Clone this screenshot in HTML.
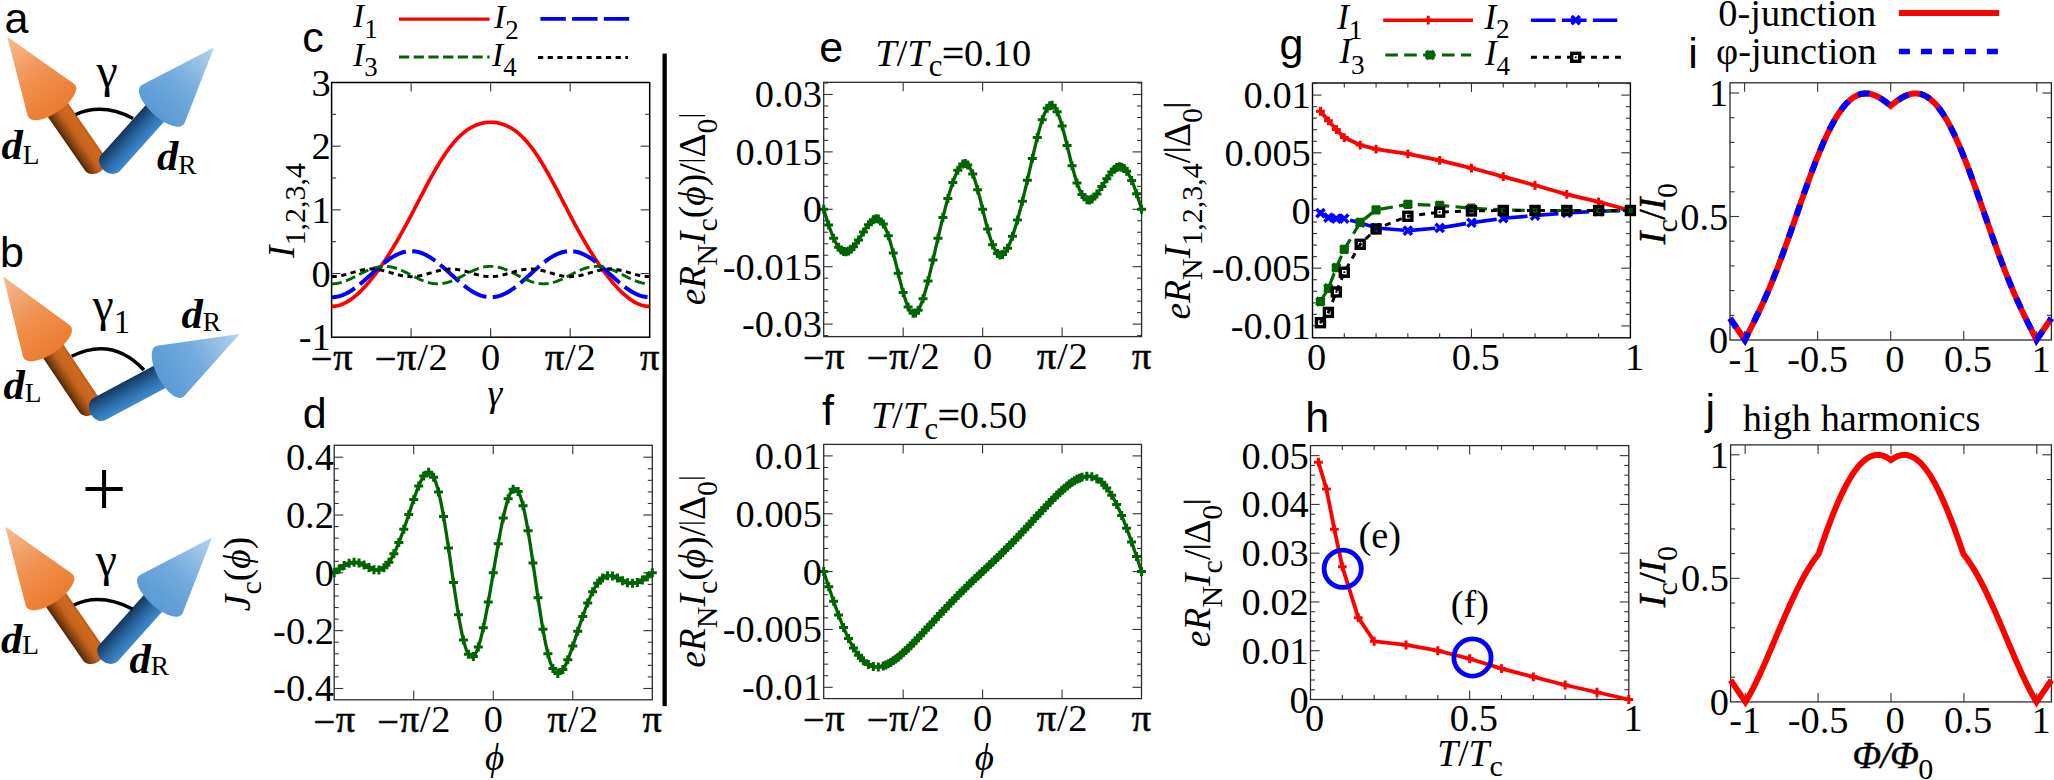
<!DOCTYPE html><html><head><meta charset="utf-8"><title>figure</title><style>html,body{margin:0;padding:0;background:#fff}svg{display:block}</style></head><body>
<svg width="2054" height="780" viewBox="0 0 2054 780">
<rect width="2054" height="780" fill="#fff"/>
<defs>
<linearGradient id="oc" x1="0" y1="0" x2="1" y2="0"><stop offset="0" stop-color="#ec7b2f"/><stop offset="0.45" stop-color="#f0904f"/><stop offset="1" stop-color="#f7bb93"/></linearGradient>
<linearGradient id="bc" x1="0" y1="0" x2="1" y2="0"><stop offset="0" stop-color="#5a9ad4"/><stop offset="0.45" stop-color="#72aadc"/><stop offset="1" stop-color="#b5d3ee"/></linearGradient>
<linearGradient id="os" x1="0" y1="1" x2="0" y2="0"><stop offset="0" stop-color="#b95c1a"/><stop offset="0.15" stop-color="#d06a1f"/><stop offset="0.5" stop-color="#c5621c"/><stop offset="0.8" stop-color="#85420f"/><stop offset="1" stop-color="#4f2608"/></linearGradient>
<linearGradient id="bs" x1="0" y1="0" x2="0" y2="1"><stop offset="0" stop-color="#14365a"/><stop offset="0.25" stop-color="#1f4f80"/><stop offset="0.6" stop-color="#2f6fae"/><stop offset="1" stop-color="#4189cb"/></linearGradient>
</defs>
<g transform="translate(95 163.5) rotate(-124.7)"><path d="M75.73 -12.2H0A9.76 12.2 0 0 0 0 12.2H75.73Z" fill="url(#os)"/><path d="M154.23 0 L77.56 -28.17 A12 28.5 0 1 0 77.56 28.17Z" fill="url(#oc)"/></g>
<g transform="translate(110.5 163) rotate(-48.16)"><path d="M77.12 -12.4H0A9.92 12.4 0 0 0 0 12.4H77.12Z" fill="url(#bs)"/><path d="M155.16 0 L78.96 -28.66 A12 29 0 1 0 78.96 28.66Z" fill="url(#bc)"/></g>
<path d="M75.6 114.5 Q103 102.5 133 118.5" fill="none" stroke="#000" stroke-width="3.5"/>
<g transform="translate(93.1 653.5) rotate(-124.7)"><path d="M75.73 -12.2H0A9.76 12.2 0 0 0 0 12.2H75.73Z" fill="url(#os)"/><path d="M154.23 0 L77.56 -28.17 A12 28.5 0 1 0 77.56 28.17Z" fill="url(#oc)"/></g>
<g transform="translate(108.6 653) rotate(-48.16)"><path d="M77.12 -12.4H0A9.92 12.4 0 0 0 0 12.4H77.12Z" fill="url(#bs)"/><path d="M155.16 0 L78.96 -28.66 A12 29 0 1 0 78.96 28.66Z" fill="url(#bc)"/></g>
<path d="M74 605 Q100 592.5 132.5 609" fill="none" stroke="#000" stroke-width="3.5"/>
<g transform="translate(89.5 405.5) rotate(-123.75)"><path d="M75.74 -12.2H0A9.76 12.2 0 0 0 0 12.2H75.74Z" fill="url(#os)"/><path d="M155.15 0 L77.55 -28.17 A12 28.5 0 1 0 77.55 28.17Z" fill="url(#oc)"/></g>
<g transform="translate(99.5 409) rotate(-28.14)"><path d="M78.8 -12.6H0A10.08 12.6 0 0 0 0 12.6H78.8Z" fill="url(#bs)"/><path d="M159 0 L80.6 -28.67 A12 29 0 1 0 80.6 28.67Z" fill="url(#bc)"/></g>
<path d="M71.7 356.3 Q112 336 144 370" fill="none" stroke="#000" stroke-width="3.5"/>
<text x="4.5" y="32.8" font-family="Liberation Sans, sans-serif" font-size="43" text-anchor="start" >a</text>
<text x="0" y="266.7" font-family="Liberation Sans, sans-serif" font-size="43" text-anchor="start" >b</text>
<text x="96.5" y="87" font-family="Liberation Serif, serif" font-size="48" text-anchor="start" >γ</text>
<text x="95.7" y="575.5" font-family="Liberation Serif, serif" font-size="48" text-anchor="start" >γ</text>
<text x="92.5" y="321.3" font-family="Liberation Serif, serif" font-size="48" text-anchor="start" >γ<tspan font-size="32.64" dy="12">1</tspan></text>
<text x="1.5" y="159" font-family="Liberation Serif, serif" font-size="42.7" text-anchor="start" ><tspan font-style="italic" font-weight="bold">d</tspan><tspan font-size="27.33" dy="5">L</tspan></text>
<text x="157" y="169.5" font-family="Liberation Serif, serif" font-size="42.7" text-anchor="start" ><tspan font-style="italic" font-weight="bold">d</tspan><tspan font-size="27.33" dy="4.3">R</tspan></text>
<text x="3.5" y="399.3" font-family="Liberation Serif, serif" font-size="42.7" text-anchor="start" ><tspan font-style="italic" font-weight="bold">d</tspan><tspan font-size="27.33" dy="3">L</tspan></text>
<text x="181.5" y="327.8" font-family="Liberation Serif, serif" font-size="42.7" text-anchor="start" ><tspan font-style="italic" font-weight="bold">d</tspan><tspan font-size="27.33" dy="3">R</tspan></text>
<text x="1" y="652.5" font-family="Liberation Serif, serif" font-size="42.7" text-anchor="start" ><tspan font-style="italic" font-weight="bold">d</tspan><tspan font-size="27.33" dy="1">L</tspan></text>
<text x="129.5" y="673.2" font-family="Liberation Serif, serif" font-size="42.7" text-anchor="start" ><tspan font-style="italic" font-weight="bold">d</tspan><tspan font-size="27.33" dy="2">R</tspan></text>
<text x="104" y="515.5" font-family="Liberation Serif, serif" font-size="80" text-anchor="middle" >+</text>
<rect x="662.5" y="53.6" width="4.3" height="652.5" fill="#000"/>
<clipPath id="cc"><rect x="331.6" y="82.5" width="318.1" height="254.7"/></clipPath>
<rect x="331.6" y="82.5" width="318.1" height="254.7" fill="none" stroke="#000" stroke-width="1.5"/>
<line x1="411.12" y1="337.2" x2="411.12" y2="328.2" stroke="#333" stroke-width="1.1" />
<line x1="411.12" y1="82.5" x2="411.12" y2="91.5" stroke="#333" stroke-width="1.1" />
<line x1="490.65" y1="337.2" x2="490.65" y2="328.2" stroke="#333" stroke-width="1.1" />
<line x1="490.65" y1="82.5" x2="490.65" y2="91.5" stroke="#333" stroke-width="1.1" />
<line x1="570.18" y1="337.2" x2="570.18" y2="328.2" stroke="#333" stroke-width="1.1" />
<line x1="570.18" y1="82.5" x2="570.18" y2="91.5" stroke="#333" stroke-width="1.1" />
<line x1="331.6" y1="273.52" x2="340.6" y2="273.52" stroke="#333" stroke-width="1.1" />
<line x1="649.7" y1="273.52" x2="640.7" y2="273.52" stroke="#333" stroke-width="1.1" />
<line x1="331.6" y1="209.85" x2="340.6" y2="209.85" stroke="#333" stroke-width="1.1" />
<line x1="649.7" y1="209.85" x2="640.7" y2="209.85" stroke="#333" stroke-width="1.1" />
<line x1="331.6" y1="146.18" x2="340.6" y2="146.18" stroke="#333" stroke-width="1.1" />
<line x1="649.7" y1="146.18" x2="640.7" y2="146.18" stroke="#333" stroke-width="1.1" />
<line x1="331.6" y1="305.36" x2="336.1" y2="305.36" stroke="#333" stroke-width="1.1" />
<line x1="649.7" y1="305.36" x2="645.2" y2="305.36" stroke="#333" stroke-width="1.1" />
<line x1="331.6" y1="241.69" x2="336.1" y2="241.69" stroke="#333" stroke-width="1.1" />
<line x1="649.7" y1="241.69" x2="645.2" y2="241.69" stroke="#333" stroke-width="1.1" />
<line x1="331.6" y1="178.01" x2="336.1" y2="178.01" stroke="#333" stroke-width="1.1" />
<line x1="649.7" y1="178.01" x2="645.2" y2="178.01" stroke="#333" stroke-width="1.1" />
<line x1="331.6" y1="114.34" x2="336.1" y2="114.34" stroke="#333" stroke-width="1.1" />
<line x1="649.7" y1="114.34" x2="645.2" y2="114.34" stroke="#333" stroke-width="1.1" />
<g clip-path="url(#cc)">
<path d="M331.6 306.39 L332.4 306.38 L333.19 306.35 L333.99 306.28 L334.78 306.2 L335.58 306.09 L336.37 305.95 L337.17 305.8 L337.96 305.61 L338.76 305.41 L339.55 305.18 L340.35 304.92 L341.14 304.64 L341.94 304.34 L342.73 304.02 L343.53 303.67 L344.32 303.3 L345.12 302.91 L345.91 302.5 L346.71 302.06 L347.5 301.6 L348.3 301.12 L349.1 300.62 L349.89 300.1 L350.69 299.56 L351.48 299 L352.28 298.41 L353.07 297.81 L353.87 297.19 L354.66 296.55 L355.46 295.89 L356.25 295.21 L357.05 294.52 L357.84 293.8 L358.64 293.07 L359.43 292.32 L360.23 291.56 L361.02 290.77 L361.82 289.97 L362.61 289.16 L363.41 288.33 L364.21 287.48 L365 286.62 L365.8 285.74 L366.59 284.85 L367.39 283.94 L368.18 283.02 L368.98 282.09 L369.77 281.14 L370.57 280.17 L371.36 279.2 L372.16 278.2 L372.95 277.2 L373.75 276.18 L374.54 275.15 L375.34 274.11 L376.13 273.05 L376.93 271.98 L377.72 270.9 L378.52 269.81 L379.32 268.7 L380.11 267.58 L380.91 266.45 L381.7 265.31 L382.5 264.15 L383.29 262.99 L384.09 261.81 L384.88 260.61 L385.68 259.41 L386.47 258.2 L387.27 256.97 L388.06 255.73 L388.86 254.48 L389.65 253.22 L390.45 251.95 L391.24 250.66 L392.04 249.37 L392.83 248.06 L393.63 246.74 L394.42 245.41 L395.22 244.07 L396.02 242.72 L396.81 241.36 L397.61 239.99 L398.4 238.61 L399.2 237.22 L399.99 235.82 L400.79 234.41 L401.58 232.99 L402.38 231.56 L403.17 230.12 L403.97 228.67 L404.76 227.22 L405.56 225.76 L406.35 224.28 L407.15 222.81 L407.94 221.32 L408.74 219.83 L409.53 218.33 L410.33 216.83 L411.13 215.32 L411.92 213.81 L412.72 212.29 L413.51 210.77 L414.31 209.24 L415.1 207.71 L415.9 206.18 L416.69 204.65 L417.49 203.12 L418.28 201.59 L419.08 200.05 L419.87 198.52 L420.67 196.99 L421.46 195.46 L422.26 193.93 L423.05 192.41 L423.85 190.89 L424.64 189.37 L425.44 187.86 L426.23 186.36 L427.03 184.86 L427.83 183.37 L428.62 181.89 L429.42 180.41 L430.21 178.95 L431.01 177.49 L431.8 176.05 L432.6 174.61 L433.39 173.19 L434.19 171.78 L434.98 170.39 L435.78 169.01 L436.57 167.64 L437.37 166.29 L438.16 164.95 L438.96 163.63 L439.75 162.32 L440.55 161.03 L441.34 159.76 L442.14 158.51 L442.94 157.28 L443.73 156.07 L444.53 154.87 L445.32 153.7 L446.12 152.54 L446.91 151.41 L447.71 150.29 L448.5 149.2 L449.3 148.13 L450.09 147.08 L450.89 146.06 L451.68 145.05 L452.48 144.07 L453.27 143.11 L454.07 142.17 L454.86 141.26 L455.66 140.37 L456.45 139.5 L457.25 138.65 L458.04 137.83 L458.84 137.03 L459.64 136.26 L460.43 135.5 L461.23 134.77 L462.02 134.06 L462.82 133.38 L463.61 132.71 L464.41 132.07 L465.2 131.46 L466 130.86 L466.79 130.29 L467.59 129.73 L468.38 129.2 L469.18 128.69 L469.97 128.2 L470.77 127.74 L471.56 127.29 L472.36 126.86 L473.15 126.46 L473.95 126.07 L474.75 125.7 L475.54 125.36 L476.34 125.03 L477.13 124.72 L477.93 124.43 L478.72 124.16 L479.52 123.91 L480.31 123.68 L481.11 123.46 L481.9 123.26 L482.7 123.08 L483.49 122.92 L484.29 122.78 L485.08 122.65 L485.88 122.54 L486.67 122.44 L487.47 122.37 L488.26 122.31 L489.06 122.27 L489.85 122.24 L490.65 122.23 L491.45 122.24 L492.24 122.27 L493.04 122.31 L493.83 122.37 L494.63 122.44 L495.42 122.54 L496.22 122.65 L497.01 122.78 L497.81 122.92 L498.6 123.08 L499.4 123.26 L500.19 123.46 L500.99 123.68 L501.78 123.91 L502.58 124.16 L503.37 124.43 L504.17 124.72 L504.96 125.03 L505.76 125.36 L506.56 125.7 L507.35 126.07 L508.15 126.46 L508.94 126.86 L509.74 127.29 L510.53 127.74 L511.33 128.2 L512.12 128.69 L512.92 129.2 L513.71 129.73 L514.51 130.29 L515.3 130.86 L516.1 131.46 L516.89 132.07 L517.69 132.71 L518.48 133.38 L519.28 134.06 L520.07 134.77 L520.87 135.5 L521.66 136.26 L522.46 137.03 L523.26 137.83 L524.05 138.65 L524.85 139.5 L525.64 140.37 L526.44 141.26 L527.23 142.17 L528.03 143.11 L528.82 144.07 L529.62 145.05 L530.41 146.06 L531.21 147.08 L532 148.13 L532.8 149.2 L533.59 150.29 L534.39 151.41 L535.18 152.54 L535.98 153.7 L536.77 154.87 L537.57 156.07 L538.37 157.28 L539.16 158.51 L539.96 159.76 L540.75 161.03 L541.55 162.32 L542.34 163.63 L543.14 164.95 L543.93 166.29 L544.73 167.64 L545.52 169.01 L546.32 170.39 L547.11 171.78 L547.91 173.19 L548.7 174.61 L549.5 176.05 L550.29 177.49 L551.09 178.95 L551.88 180.41 L552.68 181.89 L553.47 183.37 L554.27 184.86 L555.07 186.36 L555.86 187.86 L556.66 189.37 L557.45 190.89 L558.25 192.41 L559.04 193.93 L559.84 195.46 L560.63 196.99 L561.43 198.52 L562.22 200.05 L563.02 201.59 L563.81 203.12 L564.61 204.65 L565.4 206.18 L566.2 207.71 L566.99 209.24 L567.79 210.77 L568.58 212.29 L569.38 213.81 L570.18 215.32 L570.97 216.83 L571.77 218.33 L572.56 219.83 L573.36 221.32 L574.15 222.81 L574.95 224.28 L575.74 225.76 L576.54 227.22 L577.33 228.67 L578.13 230.12 L578.92 231.56 L579.72 232.99 L580.51 234.41 L581.31 235.82 L582.1 237.22 L582.9 238.61 L583.69 239.99 L584.49 241.36 L585.28 242.72 L586.08 244.07 L586.88 245.41 L587.67 246.74 L588.47 248.06 L589.26 249.37 L590.06 250.66 L590.85 251.95 L591.65 253.22 L592.44 254.48 L593.24 255.73 L594.03 256.97 L594.83 258.2 L595.62 259.41 L596.42 260.61 L597.21 261.81 L598.01 262.99 L598.8 264.15 L599.6 265.31 L600.39 266.45 L601.19 267.58 L601.99 268.7 L602.78 269.81 L603.58 270.9 L604.37 271.98 L605.17 273.05 L605.96 274.11 L606.76 275.15 L607.55 276.18 L608.35 277.2 L609.14 278.2 L609.94 279.2 L610.73 280.17 L611.53 281.14 L612.32 282.09 L613.12 283.02 L613.91 283.94 L614.71 284.85 L615.5 285.74 L616.3 286.62 L617.09 287.48 L617.89 288.33 L618.69 289.16 L619.48 289.97 L620.28 290.77 L621.07 291.56 L621.87 292.32 L622.66 293.07 L623.46 293.8 L624.25 294.52 L625.05 295.21 L625.84 295.89 L626.64 296.55 L627.43 297.19 L628.23 297.81 L629.02 298.41 L629.82 299 L630.61 299.56 L631.41 300.1 L632.2 300.62 L633 301.12 L633.8 301.6 L634.59 302.06 L635.39 302.5 L636.18 302.91 L636.98 303.3 L637.77 303.67 L638.57 304.02 L639.36 304.34 L640.16 304.64 L640.95 304.92 L641.75 305.18 L642.54 305.41 L643.34 305.61 L644.13 305.8 L644.93 305.95 L645.72 306.09 L646.52 306.2 L647.31 306.28 L648.11 306.35 L648.9 306.38 L649.7 306.39" fill="none" stroke="#ff0000" stroke-width="3.7" />
<path d="M331.6 297.21 L332.4 297.2 L333.19 297.17 L333.99 297.11 L334.78 297.03 L335.58 296.93 L336.37 296.8 L337.17 296.66 L337.96 296.49 L338.76 296.3 L339.55 296.08 L340.35 295.85 L341.14 295.59 L341.94 295.32 L342.73 295.02 L343.53 294.7 L344.32 294.36 L345.12 294 L345.91 293.62 L346.71 293.23 L347.5 292.81 L348.3 292.38 L349.1 291.92 L349.89 291.45 L350.69 290.96 L351.48 290.46 L352.28 289.94 L353.07 289.41 L353.87 288.85 L354.66 288.29 L355.46 287.71 L356.25 287.12 L357.05 286.51 L357.84 285.9 L358.64 285.27 L359.43 284.63 L360.23 283.98 L361.02 283.32 L361.82 282.65 L362.61 281.97 L363.41 281.28 L364.21 280.59 L365 279.89 L365.8 279.19 L366.59 278.48 L367.39 277.77 L368.18 277.05 L368.98 276.33 L369.77 275.61 L370.57 274.89 L371.36 274.16 L372.16 273.44 L372.95 272.71 L373.75 271.99 L374.54 271.27 L375.34 270.56 L376.13 269.84 L376.93 269.13 L377.72 268.43 L378.52 267.73 L379.32 267.04 L380.11 266.35 L380.91 265.68 L381.7 265.01 L382.5 264.35 L383.29 263.7 L384.09 263.06 L384.88 262.43 L385.68 261.81 L386.47 261.21 L387.27 260.61 L388.06 260.03 L388.86 259.47 L389.65 258.92 L390.45 258.38 L391.24 257.86 L392.04 257.36 L392.83 256.87 L393.63 256.4 L394.42 255.95 L395.22 255.51 L396.02 255.1 L396.81 254.7 L397.61 254.32 L398.4 253.96 L399.2 253.62 L399.99 253.31 L400.79 253.01 L401.58 252.73 L402.38 252.47 L403.17 252.24 L403.97 252.03 L404.76 251.84 L405.56 251.67 L406.35 251.52 L407.15 251.4 L407.94 251.29 L408.74 251.21 L409.53 251.16 L410.33 251.12 L411.13 251.11 L411.92 251.12 L412.72 251.16 L413.51 251.21 L414.31 251.29 L415.1 251.4 L415.9 251.52 L416.69 251.67 L417.49 251.84 L418.28 252.03 L419.08 252.24 L419.87 252.47 L420.67 252.73 L421.46 253.01 L422.26 253.31 L423.05 253.62 L423.85 253.96 L424.64 254.32 L425.44 254.7 L426.23 255.1 L427.03 255.51 L427.83 255.95 L428.62 256.4 L429.42 256.87 L430.21 257.36 L431.01 257.86 L431.8 258.38 L432.6 258.92 L433.39 259.47 L434.19 260.03 L434.98 260.61 L435.78 261.21 L436.57 261.81 L437.37 262.43 L438.16 263.06 L438.96 263.7 L439.75 264.35 L440.55 265.01 L441.34 265.68 L442.14 266.35 L442.94 267.04 L443.73 267.73 L444.53 268.43 L445.32 269.13 L446.12 269.84 L446.91 270.56 L447.71 271.27 L448.5 271.99 L449.3 272.71 L450.09 273.44 L450.89 274.16 L451.68 274.89 L452.48 275.61 L453.27 276.33 L454.07 277.05 L454.86 277.77 L455.66 278.48 L456.45 279.19 L457.25 279.89 L458.04 280.59 L458.84 281.28 L459.64 281.97 L460.43 282.65 L461.23 283.32 L462.02 283.98 L462.82 284.63 L463.61 285.27 L464.41 285.9 L465.2 286.51 L466 287.12 L466.79 287.71 L467.59 288.29 L468.38 288.85 L469.18 289.41 L469.97 289.94 L470.77 290.46 L471.56 290.96 L472.36 291.45 L473.15 291.92 L473.95 292.38 L474.75 292.81 L475.54 293.23 L476.34 293.62 L477.13 294 L477.93 294.36 L478.72 294.7 L479.52 295.02 L480.31 295.32 L481.11 295.59 L481.9 295.85 L482.7 296.08 L483.49 296.3 L484.29 296.49 L485.08 296.66 L485.88 296.8 L486.67 296.93 L487.47 297.03 L488.26 297.11 L489.06 297.17 L489.85 297.2 L490.65 297.21 L491.45 297.2 L492.24 297.17 L493.04 297.11 L493.83 297.03 L494.63 296.93 L495.42 296.8 L496.22 296.66 L497.01 296.49 L497.81 296.3 L498.6 296.08 L499.4 295.85 L500.19 295.59 L500.99 295.32 L501.78 295.02 L502.58 294.7 L503.37 294.36 L504.17 294 L504.96 293.62 L505.76 293.23 L506.56 292.81 L507.35 292.38 L508.15 291.92 L508.94 291.45 L509.74 290.96 L510.53 290.46 L511.33 289.94 L512.12 289.41 L512.92 288.85 L513.71 288.29 L514.51 287.71 L515.3 287.12 L516.1 286.51 L516.89 285.9 L517.69 285.27 L518.48 284.63 L519.28 283.98 L520.07 283.32 L520.87 282.65 L521.66 281.97 L522.46 281.28 L523.26 280.59 L524.05 279.89 L524.85 279.19 L525.64 278.48 L526.44 277.77 L527.23 277.05 L528.03 276.33 L528.82 275.61 L529.62 274.89 L530.41 274.16 L531.21 273.44 L532 272.71 L532.8 271.99 L533.59 271.27 L534.39 270.56 L535.18 269.84 L535.98 269.13 L536.77 268.43 L537.57 267.73 L538.37 267.04 L539.16 266.35 L539.96 265.68 L540.75 265.01 L541.55 264.35 L542.34 263.7 L543.14 263.06 L543.93 262.43 L544.73 261.81 L545.52 261.21 L546.32 260.61 L547.11 260.03 L547.91 259.47 L548.7 258.92 L549.5 258.38 L550.29 257.86 L551.09 257.36 L551.88 256.87 L552.68 256.4 L553.47 255.95 L554.27 255.51 L555.07 255.1 L555.86 254.7 L556.66 254.32 L557.45 253.96 L558.25 253.62 L559.04 253.31 L559.84 253.01 L560.63 252.73 L561.43 252.47 L562.22 252.24 L563.02 252.03 L563.81 251.84 L564.61 251.67 L565.4 251.52 L566.2 251.4 L566.99 251.29 L567.79 251.21 L568.58 251.16 L569.38 251.12 L570.18 251.11 L570.97 251.12 L571.77 251.16 L572.56 251.21 L573.36 251.29 L574.15 251.4 L574.95 251.52 L575.74 251.67 L576.54 251.84 L577.33 252.03 L578.13 252.24 L578.92 252.47 L579.72 252.73 L580.51 253.01 L581.31 253.31 L582.1 253.62 L582.9 253.96 L583.69 254.32 L584.49 254.7 L585.28 255.1 L586.08 255.51 L586.88 255.95 L587.67 256.4 L588.47 256.87 L589.26 257.36 L590.06 257.86 L590.85 258.38 L591.65 258.92 L592.44 259.47 L593.24 260.03 L594.03 260.61 L594.83 261.21 L595.62 261.81 L596.42 262.43 L597.21 263.06 L598.01 263.7 L598.8 264.35 L599.6 265.01 L600.39 265.68 L601.19 266.35 L601.99 267.04 L602.78 267.73 L603.58 268.43 L604.37 269.13 L605.17 269.84 L605.96 270.56 L606.76 271.27 L607.55 271.99 L608.35 272.71 L609.14 273.44 L609.94 274.16 L610.73 274.89 L611.53 275.61 L612.32 276.33 L613.12 277.05 L613.91 277.77 L614.71 278.48 L615.5 279.19 L616.3 279.89 L617.09 280.59 L617.89 281.28 L618.69 281.97 L619.48 282.65 L620.28 283.32 L621.07 283.98 L621.87 284.63 L622.66 285.27 L623.46 285.9 L624.25 286.51 L625.05 287.12 L625.84 287.71 L626.64 288.29 L627.43 288.85 L628.23 289.41 L629.02 289.94 L629.82 290.46 L630.61 290.96 L631.41 291.45 L632.2 291.92 L633 292.38 L633.8 292.81 L634.59 293.23 L635.39 293.62 L636.18 294 L636.98 294.36 L637.77 294.7 L638.57 295.02 L639.36 295.32 L640.16 295.59 L640.95 295.85 L641.75 296.08 L642.54 296.3 L643.34 296.49 L644.13 296.66 L644.93 296.8 L645.72 296.93 L646.52 297.03 L647.31 297.11 L648.11 297.17 L648.9 297.2 L649.7 297.21" fill="none" stroke="#0000ff" stroke-width="4" stroke-dasharray="25.4 6.3" />
<path d="M331.6 283.84 L332.4 283.83 L333.19 283.8 L333.99 283.75 L334.78 283.69 L335.58 283.6 L336.37 283.49 L337.17 283.37 L337.96 283.23 L338.76 283.06 L339.55 282.89 L340.35 282.69 L341.14 282.48 L341.94 282.25 L342.73 282 L343.53 281.74 L344.32 281.47 L345.12 281.18 L345.91 280.88 L346.71 280.56 L347.5 280.23 L348.3 279.89 L349.1 279.54 L349.89 279.18 L350.69 278.81 L351.48 278.44 L352.28 278.05 L353.07 277.66 L353.87 277.26 L354.66 276.86 L355.46 276.45 L356.25 276.05 L357.05 275.63 L357.84 275.22 L358.64 274.81 L359.43 274.4 L360.23 273.99 L361.02 273.58 L361.82 273.18 L362.61 272.77 L363.41 272.38 L364.21 271.99 L365 271.61 L365.8 271.23 L366.59 270.87 L367.39 270.51 L368.18 270.16 L368.98 269.83 L369.77 269.5 L370.57 269.19 L371.36 268.89 L372.16 268.61 L372.95 268.34 L373.75 268.08 L374.54 267.84 L375.34 267.62 L376.13 267.41 L376.93 267.22 L377.72 267.05 L378.52 266.89 L379.32 266.76 L380.11 266.64 L380.91 266.54 L381.7 266.46 L382.5 266.4 L383.29 266.36 L384.09 266.33 L384.88 266.33 L385.68 266.35 L386.47 266.38 L387.27 266.44 L388.06 266.51 L388.86 266.6 L389.65 266.72 L390.45 266.85 L391.24 267 L392.04 267.16 L392.83 267.35 L393.63 267.55 L394.42 267.77 L395.22 268 L396.02 268.25 L396.81 268.52 L397.61 268.8 L398.4 269.09 L399.2 269.4 L399.99 269.72 L400.79 270.05 L401.58 270.39 L402.38 270.75 L403.17 271.11 L403.97 271.48 L404.76 271.86 L405.56 272.25 L406.35 272.64 L407.15 273.04 L407.94 273.44 L408.74 273.85 L409.53 274.26 L410.33 274.67 L411.13 275.09 L411.92 275.5 L412.72 275.91 L413.51 276.32 L414.31 276.73 L415.1 277.13 L415.9 277.53 L416.69 277.92 L417.49 278.31 L418.28 278.69 L419.08 279.06 L419.87 279.42 L420.67 279.78 L421.46 280.12 L422.26 280.45 L423.05 280.77 L423.85 281.08 L424.64 281.37 L425.44 281.65 L426.23 281.92 L427.03 282.17 L427.83 282.4 L428.62 282.62 L429.42 282.82 L430.21 283.01 L431.01 283.17 L431.8 283.32 L432.6 283.45 L433.39 283.57 L434.19 283.66 L434.98 283.73 L435.78 283.79 L436.57 283.82 L437.37 283.84 L438.16 283.84 L438.96 283.81 L439.75 283.77 L440.55 283.71 L441.34 283.63 L442.14 283.53 L442.94 283.41 L443.73 283.28 L444.53 283.12 L445.32 282.95 L446.12 282.76 L446.91 282.55 L447.71 282.33 L448.5 282.09 L449.3 281.83 L450.09 281.56 L450.89 281.28 L451.68 280.98 L452.48 280.67 L453.27 280.34 L454.07 280.01 L454.86 279.66 L455.66 279.3 L456.45 278.94 L457.25 278.56 L458.04 278.18 L458.84 277.79 L459.64 277.4 L460.43 276.99 L461.23 276.59 L462.02 276.18 L462.82 275.77 L463.61 275.36 L464.41 274.95 L465.2 274.54 L466 274.12 L466.79 273.72 L467.59 273.31 L468.38 272.91 L469.18 272.51 L469.97 272.12 L470.77 271.73 L471.56 271.36 L472.36 270.99 L473.15 270.63 L473.95 270.28 L474.75 269.94 L475.54 269.61 L476.34 269.3 L477.13 268.99 L477.93 268.7 L478.72 268.43 L479.52 268.17 L480.31 267.92 L481.11 267.69 L481.9 267.48 L482.7 267.28 L483.49 267.11 L484.29 266.94 L485.08 266.8 L485.88 266.68 L486.67 266.57 L487.47 266.48 L488.26 266.42 L489.06 266.37 L489.85 266.34 L490.65 266.33 L491.45 266.34 L492.24 266.37 L493.04 266.42 L493.83 266.48 L494.63 266.57 L495.42 266.68 L496.22 266.8 L497.01 266.94 L497.81 267.11 L498.6 267.28 L499.4 267.48 L500.19 267.69 L500.99 267.92 L501.78 268.17 L502.58 268.43 L503.37 268.7 L504.17 268.99 L504.96 269.3 L505.76 269.61 L506.56 269.94 L507.35 270.28 L508.15 270.63 L508.94 270.99 L509.74 271.36 L510.53 271.73 L511.33 272.12 L512.12 272.51 L512.92 272.91 L513.71 273.31 L514.51 273.72 L515.3 274.12 L516.1 274.54 L516.89 274.95 L517.69 275.36 L518.48 275.77 L519.28 276.18 L520.07 276.59 L520.87 276.99 L521.66 277.4 L522.46 277.79 L523.26 278.18 L524.05 278.56 L524.85 278.94 L525.64 279.3 L526.44 279.66 L527.23 280.01 L528.03 280.34 L528.82 280.67 L529.62 280.98 L530.41 281.28 L531.21 281.56 L532 281.83 L532.8 282.09 L533.59 282.33 L534.39 282.55 L535.18 282.76 L535.98 282.95 L536.77 283.12 L537.57 283.28 L538.37 283.41 L539.16 283.53 L539.96 283.63 L540.75 283.71 L541.55 283.77 L542.34 283.81 L543.14 283.84 L543.93 283.84 L544.73 283.82 L545.52 283.79 L546.32 283.73 L547.11 283.66 L547.91 283.57 L548.7 283.45 L549.5 283.32 L550.29 283.17 L551.09 283.01 L551.88 282.82 L552.68 282.62 L553.47 282.4 L554.27 282.17 L555.07 281.92 L555.86 281.65 L556.66 281.37 L557.45 281.08 L558.25 280.77 L559.04 280.45 L559.84 280.12 L560.63 279.78 L561.43 279.42 L562.22 279.06 L563.02 278.69 L563.81 278.31 L564.61 277.92 L565.4 277.53 L566.2 277.13 L566.99 276.73 L567.79 276.32 L568.58 275.91 L569.38 275.5 L570.18 275.09 L570.97 274.67 L571.77 274.26 L572.56 273.85 L573.36 273.44 L574.15 273.04 L574.95 272.64 L575.74 272.25 L576.54 271.86 L577.33 271.48 L578.13 271.11 L578.92 270.75 L579.72 270.39 L580.51 270.05 L581.31 269.72 L582.1 269.4 L582.9 269.09 L583.69 268.8 L584.49 268.52 L585.28 268.25 L586.08 268 L586.88 267.77 L587.67 267.55 L588.47 267.35 L589.26 267.16 L590.06 267 L590.85 266.85 L591.65 266.72 L592.44 266.6 L593.24 266.51 L594.03 266.44 L594.83 266.38 L595.62 266.35 L596.42 266.33 L597.21 266.33 L598.01 266.36 L598.8 266.4 L599.6 266.46 L600.39 266.54 L601.19 266.64 L601.99 266.76 L602.78 266.89 L603.58 267.05 L604.37 267.22 L605.17 267.41 L605.96 267.62 L606.76 267.84 L607.55 268.08 L608.35 268.34 L609.14 268.61 L609.94 268.89 L610.73 269.19 L611.53 269.5 L612.32 269.83 L613.12 270.16 L613.91 270.51 L614.71 270.87 L615.5 271.23 L616.3 271.61 L617.09 271.99 L617.89 272.38 L618.69 272.77 L619.48 273.18 L620.28 273.58 L621.07 273.99 L621.87 274.4 L622.66 274.81 L623.46 275.22 L624.25 275.63 L625.05 276.05 L625.84 276.45 L626.64 276.86 L627.43 277.26 L628.23 277.66 L629.02 278.05 L629.82 278.44 L630.61 278.81 L631.41 279.18 L632.2 279.54 L633 279.89 L633.8 280.23 L634.59 280.56 L635.39 280.88 L636.18 281.18 L636.98 281.47 L637.77 281.74 L638.57 282 L639.36 282.25 L640.16 282.48 L640.95 282.69 L641.75 282.89 L642.54 283.06 L643.34 283.23 L644.13 283.37 L644.93 283.49 L645.72 283.6 L646.52 283.69 L647.31 283.75 L648.11 283.8 L648.9 283.83 L649.7 283.84" fill="none" stroke="#006400" stroke-width="2.9" stroke-dasharray="10.2 4.5" />
<path d="M331.6 276.64 L332.4 276.63 L333.19 276.61 L333.99 276.57 L334.78 276.52 L335.58 276.45 L336.37 276.37 L337.17 276.28 L337.96 276.17 L338.76 276.05 L339.55 275.91 L340.35 275.77 L341.14 275.61 L341.94 275.44 L342.73 275.26 L343.53 275.07 L344.32 274.87 L345.12 274.67 L345.91 274.46 L346.71 274.24 L347.5 274.01 L348.3 273.78 L349.1 273.55 L349.89 273.31 L350.69 273.08 L351.48 272.84 L352.28 272.6 L353.07 272.36 L353.87 272.12 L354.66 271.89 L355.46 271.66 L356.25 271.44 L357.05 271.22 L357.84 271.01 L358.64 270.8 L359.43 270.6 L360.23 270.41 L361.02 270.24 L361.82 270.07 L362.61 269.91 L363.41 269.76 L364.21 269.63 L365 269.51 L365.8 269.4 L366.59 269.3 L367.39 269.22 L368.18 269.16 L368.98 269.1 L369.77 269.07 L370.57 269.04 L371.36 269.04 L372.16 269.04 L372.95 269.07 L373.75 269.1 L374.54 269.16 L375.34 269.22 L376.13 269.3 L376.93 269.4 L377.72 269.51 L378.52 269.63 L379.32 269.76 L380.11 269.91 L380.91 270.07 L381.7 270.24 L382.5 270.41 L383.29 270.6 L384.09 270.8 L384.88 271.01 L385.68 271.22 L386.47 271.44 L387.27 271.66 L388.06 271.89 L388.86 272.12 L389.65 272.36 L390.45 272.6 L391.24 272.84 L392.04 273.08 L392.83 273.31 L393.63 273.55 L394.42 273.78 L395.22 274.01 L396.02 274.24 L396.81 274.46 L397.61 274.67 L398.4 274.87 L399.2 275.07 L399.99 275.26 L400.79 275.44 L401.58 275.61 L402.38 275.77 L403.17 275.91 L403.97 276.05 L404.76 276.17 L405.56 276.28 L406.35 276.37 L407.15 276.45 L407.94 276.52 L408.74 276.57 L409.53 276.61 L410.33 276.63 L411.13 276.64 L411.92 276.63 L412.72 276.61 L413.51 276.57 L414.31 276.52 L415.1 276.45 L415.9 276.37 L416.69 276.28 L417.49 276.17 L418.28 276.05 L419.08 275.91 L419.87 275.77 L420.67 275.61 L421.46 275.44 L422.26 275.26 L423.05 275.07 L423.85 274.87 L424.64 274.67 L425.44 274.46 L426.23 274.24 L427.03 274.01 L427.83 273.78 L428.62 273.55 L429.42 273.31 L430.21 273.08 L431.01 272.84 L431.8 272.6 L432.6 272.36 L433.39 272.12 L434.19 271.89 L434.98 271.66 L435.78 271.44 L436.57 271.22 L437.37 271.01 L438.16 270.8 L438.96 270.6 L439.75 270.41 L440.55 270.24 L441.34 270.07 L442.14 269.91 L442.94 269.76 L443.73 269.63 L444.53 269.51 L445.32 269.4 L446.12 269.3 L446.91 269.22 L447.71 269.16 L448.5 269.1 L449.3 269.07 L450.09 269.04 L450.89 269.04 L451.68 269.04 L452.48 269.07 L453.27 269.1 L454.07 269.16 L454.86 269.22 L455.66 269.3 L456.45 269.4 L457.25 269.51 L458.04 269.63 L458.84 269.76 L459.64 269.91 L460.43 270.07 L461.23 270.24 L462.02 270.41 L462.82 270.6 L463.61 270.8 L464.41 271.01 L465.2 271.22 L466 271.44 L466.79 271.66 L467.59 271.89 L468.38 272.12 L469.18 272.36 L469.97 272.6 L470.77 272.84 L471.56 273.08 L472.36 273.31 L473.15 273.55 L473.95 273.78 L474.75 274.01 L475.54 274.24 L476.34 274.46 L477.13 274.67 L477.93 274.87 L478.72 275.07 L479.52 275.26 L480.31 275.44 L481.11 275.61 L481.9 275.77 L482.7 275.91 L483.49 276.05 L484.29 276.17 L485.08 276.28 L485.88 276.37 L486.67 276.45 L487.47 276.52 L488.26 276.57 L489.06 276.61 L489.85 276.63 L490.65 276.64 L491.45 276.63 L492.24 276.61 L493.04 276.57 L493.83 276.52 L494.63 276.45 L495.42 276.37 L496.22 276.28 L497.01 276.17 L497.81 276.05 L498.6 275.91 L499.4 275.77 L500.19 275.61 L500.99 275.44 L501.78 275.26 L502.58 275.07 L503.37 274.87 L504.17 274.67 L504.96 274.46 L505.76 274.24 L506.56 274.01 L507.35 273.78 L508.15 273.55 L508.94 273.31 L509.74 273.08 L510.53 272.84 L511.33 272.6 L512.12 272.36 L512.92 272.12 L513.71 271.89 L514.51 271.66 L515.3 271.44 L516.1 271.22 L516.89 271.01 L517.69 270.8 L518.48 270.6 L519.28 270.41 L520.07 270.24 L520.87 270.07 L521.66 269.91 L522.46 269.76 L523.26 269.63 L524.05 269.51 L524.85 269.4 L525.64 269.3 L526.44 269.22 L527.23 269.16 L528.03 269.1 L528.82 269.07 L529.62 269.04 L530.41 269.04 L531.21 269.04 L532 269.07 L532.8 269.1 L533.59 269.16 L534.39 269.22 L535.18 269.3 L535.98 269.4 L536.77 269.51 L537.57 269.63 L538.37 269.76 L539.16 269.91 L539.96 270.07 L540.75 270.24 L541.55 270.41 L542.34 270.6 L543.14 270.8 L543.93 271.01 L544.73 271.22 L545.52 271.44 L546.32 271.66 L547.11 271.89 L547.91 272.12 L548.7 272.36 L549.5 272.6 L550.29 272.84 L551.09 273.08 L551.88 273.31 L552.68 273.55 L553.47 273.78 L554.27 274.01 L555.07 274.24 L555.86 274.46 L556.66 274.67 L557.45 274.87 L558.25 275.07 L559.04 275.26 L559.84 275.44 L560.63 275.61 L561.43 275.77 L562.22 275.91 L563.02 276.05 L563.81 276.17 L564.61 276.28 L565.4 276.37 L566.2 276.45 L566.99 276.52 L567.79 276.57 L568.58 276.61 L569.38 276.63 L570.18 276.64 L570.97 276.63 L571.77 276.61 L572.56 276.57 L573.36 276.52 L574.15 276.45 L574.95 276.37 L575.74 276.28 L576.54 276.17 L577.33 276.05 L578.13 275.91 L578.92 275.77 L579.72 275.61 L580.51 275.44 L581.31 275.26 L582.1 275.07 L582.9 274.87 L583.69 274.67 L584.49 274.46 L585.28 274.24 L586.08 274.01 L586.88 273.78 L587.67 273.55 L588.47 273.31 L589.26 273.08 L590.06 272.84 L590.85 272.6 L591.65 272.36 L592.44 272.12 L593.24 271.89 L594.03 271.66 L594.83 271.44 L595.62 271.22 L596.42 271.01 L597.21 270.8 L598.01 270.6 L598.8 270.41 L599.6 270.24 L600.39 270.07 L601.19 269.91 L601.99 269.76 L602.78 269.63 L603.58 269.51 L604.37 269.4 L605.17 269.3 L605.96 269.22 L606.76 269.16 L607.55 269.1 L608.35 269.07 L609.14 269.04 L609.94 269.04 L610.73 269.04 L611.53 269.07 L612.32 269.1 L613.12 269.16 L613.91 269.22 L614.71 269.3 L615.5 269.4 L616.3 269.51 L617.09 269.63 L617.89 269.76 L618.69 269.91 L619.48 270.07 L620.28 270.24 L621.07 270.41 L621.87 270.6 L622.66 270.8 L623.46 271.01 L624.25 271.22 L625.05 271.44 L625.84 271.66 L626.64 271.89 L627.43 272.12 L628.23 272.36 L629.02 272.6 L629.82 272.84 L630.61 273.08 L631.41 273.31 L632.2 273.55 L633 273.78 L633.8 274.01 L634.59 274.24 L635.39 274.46 L636.18 274.67 L636.98 274.87 L637.77 275.07 L638.57 275.26 L639.36 275.44 L640.16 275.61 L640.95 275.77 L641.75 275.91 L642.54 276.05 L643.34 276.17 L644.13 276.28 L644.93 276.37 L645.72 276.45 L646.52 276.52 L647.31 276.57 L648.11 276.61 L648.9 276.63 L649.7 276.64" fill="none" stroke="#000" stroke-width="3" stroke-dasharray="5.2 4.5" />
</g>
<text x="332.1" y="369.5" font-family="Liberation Serif, serif" font-size="38.4" text-anchor="middle" letter-spacing="0.7"><tspan stroke="#000" stroke-width="0.55" font-size="38.4" dy="2.4">−</tspan><tspan stroke="#000" stroke-width="0.55" dy="-2.4">π</tspan></text>
<text x="411.62" y="369.5" font-family="Liberation Serif, serif" font-size="38.4" text-anchor="middle" letter-spacing="0.7"><tspan stroke="#000" stroke-width="0.55" font-size="38.4" dy="2.4">−</tspan><tspan stroke="#000" stroke-width="0.55" dy="-2.4">π</tspan>/2</text>
<text x="490.65" y="369.5" font-family="Liberation Serif, serif" font-size="38.4" text-anchor="middle" >0</text>
<text x="570.68" y="369.5" font-family="Liberation Serif, serif" font-size="38.4" text-anchor="middle" letter-spacing="0.7"><tspan stroke="#000" stroke-width="0.55">π</tspan>/2</text>
<text x="649.7" y="369.5" font-family="Liberation Serif, serif" font-size="38.4" text-anchor="middle" ><tspan stroke="#000" stroke-width="0.55">π</tspan></text>
<text x="330.7" y="350.2" font-family="Liberation Serif, serif" font-size="38.4" text-anchor="end" >-1</text>
<text x="330.7" y="286.52" font-family="Liberation Serif, serif" font-size="38.4" text-anchor="end" >0</text>
<text x="330.7" y="222.85" font-family="Liberation Serif, serif" font-size="38.4" text-anchor="end" >1</text>
<text x="330.7" y="159.18" font-family="Liberation Serif, serif" font-size="38.4" text-anchor="end" >2</text>
<text x="330.7" y="95.5" font-family="Liberation Serif, serif" font-size="38.4" text-anchor="end" >3</text>
<text x="495" y="405.5" font-family="Liberation Serif, serif" font-size="37.5" text-anchor="middle" ><tspan font-style="italic">γ</tspan></text>
<text x="0" y="0" transform="translate(293.8 210.5) rotate(-90)" font-family="Liberation Serif, serif" font-size="37.5" text-anchor="middle" ><tspan font-style="italic">I</tspan><tspan font-size="30" dy="11.5">1,2,3,4</tspan></text>
<text x="302.3" y="52" font-family="Liberation Sans, sans-serif" font-size="43" text-anchor="start" >c</text>
<text x="353" y="26.9" font-family="Liberation Serif, serif" font-size="33.6" text-anchor="start" ><tspan font-style="italic">I</tspan><tspan font-size="26.88" dy="10.9">1</tspan></text>
<text x="353" y="66" font-family="Liberation Serif, serif" font-size="33.6" text-anchor="start" ><tspan font-style="italic">I</tspan><tspan font-size="26.88" dy="10.3">3</tspan></text>
<text x="494" y="27.5" font-family="Liberation Serif, serif" font-size="33.6" text-anchor="start" ><tspan font-style="italic">I</tspan><tspan font-size="26.88" dy="11.3">2</tspan></text>
<text x="492" y="65.6" font-family="Liberation Serif, serif" font-size="33.6" text-anchor="start" ><tspan font-style="italic">I</tspan><tspan font-size="26.88" dy="9.9">4</tspan></text>
<line x1="399" y1="19.2" x2="489.6" y2="19.2" stroke="#ff0000" stroke-width="3.2" />
<line x1="399" y1="57" x2="489.6" y2="57" stroke="#006400" stroke-width="2.8" stroke-dasharray="10.2 4.5"/>
<line x1="540.4" y1="18.8" x2="630" y2="18.8" stroke="#0000ff" stroke-width="3.8" stroke-dasharray="25.4 6.3"/>
<line x1="538" y1="57.4" x2="628" y2="57.4" stroke="#000" stroke-width="3" stroke-dasharray="5.2 4.5"/>
<rect x="334.2" y="445.3" width="318.1" height="254.5" fill="none" stroke="#2a2a2a" stroke-width="1.3"/>
<line x1="413.72" y1="699.8" x2="413.72" y2="690.8" stroke="#333" stroke-width="1.1" />
<line x1="413.72" y1="445.3" x2="413.72" y2="454.3" stroke="#333" stroke-width="1.1" />
<line x1="493.25" y1="699.8" x2="493.25" y2="690.8" stroke="#333" stroke-width="1.1" />
<line x1="493.25" y1="445.3" x2="493.25" y2="454.3" stroke="#333" stroke-width="1.1" />
<line x1="572.77" y1="699.8" x2="572.77" y2="690.8" stroke="#333" stroke-width="1.1" />
<line x1="572.77" y1="445.3" x2="572.77" y2="454.3" stroke="#333" stroke-width="1.1" />
<line x1="334.2" y1="688.49" x2="343.2" y2="688.49" stroke="#333" stroke-width="1.1" />
<line x1="652.3" y1="688.49" x2="643.3" y2="688.49" stroke="#333" stroke-width="1.1" />
<line x1="334.2" y1="630.67" x2="343.2" y2="630.67" stroke="#333" stroke-width="1.1" />
<line x1="652.3" y1="630.67" x2="643.3" y2="630.67" stroke="#333" stroke-width="1.1" />
<line x1="334.2" y1="572.85" x2="343.2" y2="572.85" stroke="#333" stroke-width="1.1" />
<line x1="652.3" y1="572.85" x2="643.3" y2="572.85" stroke="#333" stroke-width="1.1" />
<line x1="334.2" y1="515.03" x2="343.2" y2="515.03" stroke="#333" stroke-width="1.1" />
<line x1="652.3" y1="515.03" x2="643.3" y2="515.03" stroke="#333" stroke-width="1.1" />
<line x1="334.2" y1="457.21" x2="343.2" y2="457.21" stroke="#333" stroke-width="1.1" />
<line x1="652.3" y1="457.21" x2="643.3" y2="457.21" stroke="#333" stroke-width="1.1" />
<line x1="334.2" y1="676.93" x2="338.7" y2="676.93" stroke="#333" stroke-width="1.1" />
<line x1="652.3" y1="676.93" x2="647.8" y2="676.93" stroke="#333" stroke-width="1.1" />
<line x1="334.2" y1="665.36" x2="338.7" y2="665.36" stroke="#333" stroke-width="1.1" />
<line x1="652.3" y1="665.36" x2="647.8" y2="665.36" stroke="#333" stroke-width="1.1" />
<line x1="334.2" y1="653.8" x2="338.7" y2="653.8" stroke="#333" stroke-width="1.1" />
<line x1="652.3" y1="653.8" x2="647.8" y2="653.8" stroke="#333" stroke-width="1.1" />
<line x1="334.2" y1="642.23" x2="338.7" y2="642.23" stroke="#333" stroke-width="1.1" />
<line x1="652.3" y1="642.23" x2="647.8" y2="642.23" stroke="#333" stroke-width="1.1" />
<line x1="334.2" y1="619.11" x2="338.7" y2="619.11" stroke="#333" stroke-width="1.1" />
<line x1="652.3" y1="619.11" x2="647.8" y2="619.11" stroke="#333" stroke-width="1.1" />
<line x1="334.2" y1="607.54" x2="338.7" y2="607.54" stroke="#333" stroke-width="1.1" />
<line x1="652.3" y1="607.54" x2="647.8" y2="607.54" stroke="#333" stroke-width="1.1" />
<line x1="334.2" y1="595.98" x2="338.7" y2="595.98" stroke="#333" stroke-width="1.1" />
<line x1="652.3" y1="595.98" x2="647.8" y2="595.98" stroke="#333" stroke-width="1.1" />
<line x1="334.2" y1="584.41" x2="338.7" y2="584.41" stroke="#333" stroke-width="1.1" />
<line x1="652.3" y1="584.41" x2="647.8" y2="584.41" stroke="#333" stroke-width="1.1" />
<line x1="334.2" y1="561.29" x2="338.7" y2="561.29" stroke="#333" stroke-width="1.1" />
<line x1="652.3" y1="561.29" x2="647.8" y2="561.29" stroke="#333" stroke-width="1.1" />
<line x1="334.2" y1="549.72" x2="338.7" y2="549.72" stroke="#333" stroke-width="1.1" />
<line x1="652.3" y1="549.72" x2="647.8" y2="549.72" stroke="#333" stroke-width="1.1" />
<line x1="334.2" y1="538.16" x2="338.7" y2="538.16" stroke="#333" stroke-width="1.1" />
<line x1="652.3" y1="538.16" x2="647.8" y2="538.16" stroke="#333" stroke-width="1.1" />
<line x1="334.2" y1="526.59" x2="338.7" y2="526.59" stroke="#333" stroke-width="1.1" />
<line x1="652.3" y1="526.59" x2="647.8" y2="526.59" stroke="#333" stroke-width="1.1" />
<line x1="334.2" y1="503.47" x2="338.7" y2="503.47" stroke="#333" stroke-width="1.1" />
<line x1="652.3" y1="503.47" x2="647.8" y2="503.47" stroke="#333" stroke-width="1.1" />
<line x1="334.2" y1="491.9" x2="338.7" y2="491.9" stroke="#333" stroke-width="1.1" />
<line x1="652.3" y1="491.9" x2="647.8" y2="491.9" stroke="#333" stroke-width="1.1" />
<line x1="334.2" y1="480.34" x2="338.7" y2="480.34" stroke="#333" stroke-width="1.1" />
<line x1="652.3" y1="480.34" x2="647.8" y2="480.34" stroke="#333" stroke-width="1.1" />
<line x1="334.2" y1="468.77" x2="338.7" y2="468.77" stroke="#333" stroke-width="1.1" />
<line x1="652.3" y1="468.77" x2="647.8" y2="468.77" stroke="#333" stroke-width="1.1" />
<path d="M334.2 572.85 L334.82 572.35 L335.44 571.85 L336.06 571.36 L336.69 570.87 L337.31 570.38 L337.93 569.89 L338.55 569.42 L339.17 568.95 L339.79 568.49 L340.41 568.04 L341.03 567.59 L341.66 567.16 L342.28 566.75 L342.9 566.34 L343.52 565.95 L344.14 565.58 L344.76 565.22 L345.38 564.88 L346 564.56 L346.63 564.26 L347.25 563.97 L347.87 563.71 L348.49 563.47 L349.11 563.25 L349.73 563.05 L350.35 562.88 L350.97 562.73 L351.6 562.61 L352.22 562.51 L352.84 562.43 L353.46 562.38 L354.08 562.36 L354.7 562.36 L355.32 562.39 L355.95 562.44 L356.57 562.51 L357.19 562.61 L357.81 562.74 L358.43 562.88 L359.05 563.05 L359.67 563.24 L360.29 563.45 L360.92 563.67 L361.54 563.92 L362.16 564.18 L362.78 564.45 L363.4 564.74 L364.02 565.04 L364.64 565.35 L365.26 565.67 L365.89 565.99 L366.51 566.31 L367.13 566.64 L367.75 566.96 L368.37 567.29 L368.99 567.6 L369.61 567.91 L370.23 568.21 L370.86 568.49 L371.48 568.76 L372.1 569.02 L372.72 569.25 L373.34 569.46 L373.96 569.64 L374.58 569.8 L375.21 569.94 L375.83 570.04 L376.45 570.1 L377.07 570.13 L377.69 570.13 L378.31 570.09 L378.93 570 L379.55 569.88 L380.18 569.71 L380.8 569.5 L381.42 569.24 L382.04 568.94 L382.66 568.59 L383.28 568.19 L383.9 567.74 L384.52 567.25 L385.15 566.7 L385.77 566.1 L386.39 565.45 L387.01 564.76 L387.63 564.01 L388.25 563.21 L388.87 562.36 L389.49 561.47 L390.12 560.52 L390.74 559.53 L391.36 558.49 L391.98 557.4 L392.6 556.27 L393.22 555.09 L393.84 553.87 L394.47 552.6 L395.09 551.29 L395.71 549.94 L396.33 548.55 L396.95 547.13 L397.57 545.66 L398.19 544.16 L398.81 542.62 L399.44 541.05 L400.06 539.45 L400.68 537.82 L401.3 536.16 L401.92 534.47 L402.54 532.75 L403.16 531.01 L403.78 529.24 L404.41 527.46 L405.03 525.65 L405.65 523.83 L406.27 522 L406.89 520.14 L407.51 518.28 L408.13 516.41 L408.75 514.53 L409.38 512.65 L410 510.76 L410.62 508.88 L411.24 507 L411.86 505.13 L412.48 503.27 L413.1 501.42 L413.72 499.59 L414.35 497.78 L414.97 496 L415.59 494.24 L416.21 492.52 L416.83 490.83 L417.45 489.19 L418.07 487.59 L418.7 486.04 L419.32 484.55 L419.94 483.11 L420.56 481.75 L421.18 480.45 L421.8 479.23 L422.42 478.09 L423.04 477.04 L423.67 476.08 L424.29 475.21 L424.91 474.45 L425.53 473.8 L426.15 473.26 L426.77 472.83 L427.39 472.53 L428.01 472.35 L428.64 472.31 L429.26 472.4 L429.88 472.63 L430.5 473 L431.12 473.53 L431.74 474.2 L432.36 475.02 L432.98 476 L433.61 477.13 L434.23 478.43 L434.85 479.88 L435.47 481.5 L436.09 483.27 L436.71 485.2 L437.33 487.3 L437.96 489.55 L438.58 491.96 L439.2 494.52 L439.82 497.23 L440.44 500.09 L441.06 503.09 L441.68 506.22 L442.3 509.5 L442.93 512.9 L443.55 516.42 L444.17 520.05 L444.79 523.79 L445.41 527.64 L446.03 531.57 L446.65 535.59 L447.27 539.68 L447.9 543.84 L448.52 548.05 L449.14 552.31 L449.76 556.61 L450.38 560.94 L451 565.28 L451.62 569.62 L452.24 573.97 L452.87 578.29 L453.49 582.6 L454.11 586.86 L454.73 591.08 L455.35 595.24 L455.97 599.34 L456.59 603.36 L457.22 607.29 L457.84 611.13 L458.46 614.86 L459.08 618.47 L459.7 621.97 L460.32 625.33 L460.94 628.55 L461.56 631.63 L462.19 634.56 L462.81 637.32 L463.43 639.92 L464.05 642.36 L464.67 644.61 L465.29 646.69 L465.91 648.59 L466.53 650.3 L467.16 651.82 L467.78 653.15 L468.4 654.28 L469.02 655.23 L469.64 655.98 L470.26 656.53 L470.88 656.89 L471.5 657.06 L472.13 657.04 L472.75 656.83 L473.37 656.43 L473.99 655.84 L474.61 655.08 L475.23 654.14 L475.85 653.02 L476.48 651.73 L477.1 650.28 L477.72 648.66 L478.34 646.89 L478.96 644.97 L479.58 642.9 L480.2 640.69 L480.82 638.35 L481.45 635.88 L482.07 633.28 L482.69 630.57 L483.31 627.75 L483.93 624.83 L484.55 621.8 L485.17 618.69 L485.79 615.49 L486.42 612.21 L487.04 608.86 L487.66 605.45 L488.28 601.97 L488.9 598.45 L489.52 594.88 L490.14 591.27 L490.76 587.62 L491.39 583.95 L492.01 580.26 L492.63 576.56 L493.25 572.85 L493.87 569.14 L494.49 565.44 L495.11 561.75 L495.74 558.08 L496.36 554.43 L496.98 550.82 L497.6 547.25 L498.22 543.73 L498.84 540.25 L499.46 536.84 L500.08 533.49 L500.71 530.21 L501.33 527.01 L501.95 523.9 L502.57 520.87 L503.19 517.95 L503.81 515.13 L504.43 512.42 L505.05 509.82 L505.68 507.35 L506.3 505.01 L506.92 502.8 L507.54 500.73 L508.16 498.81 L508.78 497.04 L509.4 495.42 L510.02 493.97 L510.65 492.68 L511.27 491.56 L511.89 490.62 L512.51 489.86 L513.13 489.27 L513.75 488.87 L514.37 488.66 L515 488.64 L515.62 488.81 L516.24 489.17 L516.86 489.72 L517.48 490.47 L518.1 491.42 L518.72 492.55 L519.34 493.88 L519.97 495.4 L520.59 497.11 L521.21 499.01 L521.83 501.09 L522.45 503.34 L523.07 505.78 L523.69 508.38 L524.31 511.14 L524.94 514.07 L525.56 517.15 L526.18 520.37 L526.8 523.73 L527.42 527.23 L528.04 530.84 L528.66 534.57 L529.28 538.41 L529.91 542.34 L530.53 546.36 L531.15 550.46 L531.77 554.62 L532.39 558.84 L533.01 563.1 L533.63 567.41 L534.26 571.73 L534.88 576.08 L535.5 580.42 L536.12 584.76 L536.74 589.09 L537.36 593.39 L537.98 597.65 L538.6 601.86 L539.23 606.02 L539.85 610.11 L540.47 614.13 L541.09 618.06 L541.71 621.91 L542.33 625.65 L542.95 629.28 L543.57 632.8 L544.2 636.2 L544.82 639.48 L545.44 642.61 L546.06 645.61 L546.68 648.47 L547.3 651.18 L547.92 653.74 L548.54 656.15 L549.17 658.4 L549.79 660.5 L550.41 662.43 L551.03 664.2 L551.65 665.82 L552.27 667.27 L552.89 668.57 L553.52 669.7 L554.14 670.68 L554.76 671.5 L555.38 672.17 L556 672.7 L556.62 673.07 L557.24 673.3 L557.86 673.39 L558.49 673.35 L559.11 673.17 L559.73 672.87 L560.35 672.44 L560.97 671.9 L561.59 671.25 L562.21 670.49 L562.83 669.62 L563.46 668.66 L564.08 667.61 L564.7 666.47 L565.32 665.25 L565.94 663.95 L566.56 662.59 L567.18 661.15 L567.8 659.66 L568.43 658.11 L569.05 656.51 L569.67 654.87 L570.29 653.18 L570.91 651.46 L571.53 649.7 L572.15 647.92 L572.77 646.11 L573.4 644.28 L574.02 642.43 L574.64 640.57 L575.26 638.7 L575.88 636.82 L576.5 634.94 L577.12 633.05 L577.75 631.17 L578.37 629.29 L578.99 627.42 L579.61 625.56 L580.23 623.7 L580.85 621.87 L581.47 620.05 L582.09 618.24 L582.72 616.46 L583.34 614.69 L583.96 612.95 L584.58 611.23 L585.2 609.54 L585.82 607.88 L586.44 606.25 L587.06 604.65 L587.69 603.08 L588.31 601.54 L588.93 600.04 L589.55 598.57 L590.17 597.15 L590.79 595.76 L591.41 594.41 L592.03 593.1 L592.66 591.83 L593.28 590.61 L593.9 589.43 L594.52 588.3 L595.14 587.21 L595.76 586.17 L596.38 585.18 L597.01 584.23 L597.63 583.34 L598.25 582.49 L598.87 581.69 L599.49 580.94 L600.11 580.25 L600.73 579.6 L601.35 579 L601.98 578.45 L602.6 577.96 L603.22 577.51 L603.84 577.11 L604.46 576.76 L605.08 576.46 L605.7 576.2 L606.32 575.99 L606.95 575.82 L607.57 575.7 L608.19 575.61 L608.81 575.57 L609.43 575.57 L610.05 575.6 L610.67 575.66 L611.29 575.76 L611.92 575.9 L612.54 576.06 L613.16 576.24 L613.78 576.45 L614.4 576.68 L615.02 576.94 L615.64 577.21 L616.27 577.49 L616.89 577.79 L617.51 578.1 L618.13 578.41 L618.75 578.74 L619.37 579.06 L619.99 579.39 L620.61 579.71 L621.24 580.03 L621.86 580.35 L622.48 580.66 L623.1 580.96 L623.72 581.25 L624.34 581.52 L624.96 581.78 L625.58 582.03 L626.21 582.25 L626.83 582.46 L627.45 582.65 L628.07 582.82 L628.69 582.96 L629.31 583.09 L629.93 583.19 L630.55 583.26 L631.18 583.31 L631.8 583.34 L632.42 583.34 L633.04 583.32 L633.66 583.27 L634.28 583.19 L634.9 583.09 L635.53 582.97 L636.15 582.82 L636.77 582.65 L637.39 582.45 L638.01 582.23 L638.63 581.99 L639.25 581.73 L639.87 581.44 L640.5 581.14 L641.12 580.82 L641.74 580.48 L642.36 580.12 L642.98 579.75 L643.6 579.36 L644.22 578.95 L644.84 578.54 L645.47 578.11 L646.09 577.66 L646.71 577.21 L647.33 576.75 L647.95 576.28 L648.57 575.81 L649.19 575.32 L649.81 574.83 L650.44 574.34 L651.06 573.85 L651.68 573.35 L652.3 572.85" fill="none" stroke="#006400" stroke-width="3.3" stroke-linejoin="round"/>
<path d="M329.7 572.85H338.7M334.2 568.35V577.35M334.67 568.95H343.67M339.17 564.45V573.45M339.64 565.58H348.64M344.14 561.08V570.08M344.61 563.25H353.61M349.11 558.75V567.75M349.58 562.36H358.58M354.08 557.86V566.86M354.55 563.05H363.55M359.05 558.55V567.55M359.52 565.04H368.52M364.02 560.54V569.54M364.49 567.6H373.49M368.99 563.1V572.1M369.46 569.64H378.46M373.96 565.14V574.14M374.43 570H383.43M378.93 565.5V574.5M379.4 567.74H388.4M383.9 563.24V572.24M384.37 562.36H393.37M388.87 557.86V566.86M389.34 553.87H398.34M393.84 549.37V558.37M394.31 542.62H403.31M398.81 538.12V547.12M399.28 529.24H408.28M403.78 524.74V533.74M404.25 514.53H413.25M408.75 510.03V519.03M409.22 499.59H418.22M413.72 495.09V504.09M414.2 486.04H423.2M418.7 481.54V490.54M419.17 476.08H428.17M423.67 471.58V480.58M424.14 472.31H433.14M428.64 467.81V476.81M429.11 477.13H438.11M433.61 472.63V481.63M434.08 491.96H443.08M438.58 487.46V496.46M439.05 516.42H448.05M443.55 511.92V520.92M444.02 548.05H453.02M448.52 543.55V552.55M448.99 582.6H457.99M453.49 578.1V587.1M453.96 614.86H462.96M458.46 610.36V619.36M458.93 639.92H467.93M463.43 635.42V644.42M463.9 654.28H472.9M468.4 649.78V658.78M468.87 656.43H477.87M473.37 651.93V660.93M473.84 646.89H482.84M478.34 642.39V651.39M478.81 627.75H487.81M483.31 623.25V632.25M483.78 601.97H492.78M488.28 597.47V606.47M488.75 572.85H497.75M493.25 568.35V577.35M493.72 543.73H502.72M498.22 539.23V548.23M498.69 517.95H507.69M503.19 513.45V522.45M503.66 498.81H512.66M508.16 494.31V503.31M508.63 489.27H517.63M513.13 484.77V493.77M513.6 491.42H522.6M518.1 486.92V495.92M518.57 505.78H527.57M523.07 501.28V510.28M523.54 530.84H532.54M528.04 526.34V535.34M528.51 563.1H537.51M533.01 558.6V567.6M533.48 597.65H542.48M537.98 593.15V602.15M538.45 629.28H547.45M542.95 624.78V633.78M543.42 653.74H552.42M547.92 649.24V658.24M548.39 668.57H557.39M552.89 664.07V673.07M553.36 673.39H562.36M557.86 668.89V677.89M558.33 669.62H567.33M562.83 665.12V674.12M563.3 659.66H572.3M567.8 655.16V664.16M568.27 646.11H577.27M572.77 641.61V650.61M573.25 631.17H582.25M577.75 626.67V635.67M578.22 616.46H587.22M582.72 611.96V620.96M583.19 603.08H592.19M587.69 598.58V607.58M588.16 591.83H597.16M592.66 587.33V596.33M593.13 583.34H602.13M597.63 578.84V587.84M598.1 577.96H607.1M602.6 573.46V582.46M603.07 575.7H612.07M607.57 571.2V580.2M608.04 576.06H617.04M612.54 571.56V580.56M613.01 578.1H622.01M617.51 573.6V582.6M617.98 580.66H626.98M622.48 576.16V585.16M622.95 582.65H631.95M627.45 578.15V587.15M627.92 583.34H636.92M632.42 578.84V587.84M632.89 582.45H641.89M637.39 577.95V586.95M637.86 580.12H646.86M642.36 575.62V584.62M642.83 576.75H651.83M647.33 572.25V581.25M647.8 572.85H656.8M652.3 568.35V577.35" fill="none" stroke="#006400" stroke-width="3"/>
<text x="334.7" y="732.1" font-family="Liberation Serif, serif" font-size="38.4" text-anchor="middle" letter-spacing="0.7"><tspan stroke="#000" stroke-width="0.55" font-size="38.4" dy="2.4">−</tspan><tspan stroke="#000" stroke-width="0.55" dy="-2.4">π</tspan></text>
<text x="414.22" y="732.1" font-family="Liberation Serif, serif" font-size="38.4" text-anchor="middle" letter-spacing="0.7"><tspan stroke="#000" stroke-width="0.55" font-size="38.4" dy="2.4">−</tspan><tspan stroke="#000" stroke-width="0.55" dy="-2.4">π</tspan>/2</text>
<text x="493.25" y="732.1" font-family="Liberation Serif, serif" font-size="38.4" text-anchor="middle" >0</text>
<text x="573.27" y="732.1" font-family="Liberation Serif, serif" font-size="38.4" text-anchor="middle" letter-spacing="0.7"><tspan stroke="#000" stroke-width="0.55">π</tspan>/2</text>
<text x="652.3" y="732.1" font-family="Liberation Serif, serif" font-size="38.4" text-anchor="middle" ><tspan stroke="#000" stroke-width="0.55">π</tspan></text>
<text x="333.9" y="701.49" font-family="Liberation Serif, serif" font-size="38.4" text-anchor="end" >-0.4</text>
<text x="333.9" y="643.67" font-family="Liberation Serif, serif" font-size="38.4" text-anchor="end" >-0.2</text>
<text x="333.9" y="585.85" font-family="Liberation Serif, serif" font-size="38.4" text-anchor="end" >0</text>
<text x="333.9" y="528.03" font-family="Liberation Serif, serif" font-size="38.4" text-anchor="end" >0.2</text>
<text x="333.9" y="470.21" font-family="Liberation Serif, serif" font-size="38.4" text-anchor="end" >0.4</text>
<text x="494.5" y="769.5" font-family="Liberation Serif, serif" font-size="37" text-anchor="middle" ><tspan font-style="italic">ϕ</tspan></text>
<text x="0" y="0" transform="translate(250 574) rotate(-90)" font-family="Liberation Serif, serif" font-size="37.5" text-anchor="middle" ><tspan font-style="italic">J</tspan><tspan font-size="30" dy="10.5">c</tspan><tspan dy="-10.5">(</tspan><tspan font-style="italic">ϕ</tspan>)</text>
<text x="302.8" y="428.3" font-family="Liberation Sans, sans-serif" font-size="43" text-anchor="start" >d</text>
<rect x="823.7" y="82.3" width="317.9" height="254.3" fill="none" stroke="#2a2a2a" stroke-width="1.3"/>
<line x1="903.17" y1="336.6" x2="903.17" y2="327.6" stroke="#333" stroke-width="1.1" />
<line x1="903.17" y1="82.3" x2="903.17" y2="91.3" stroke="#333" stroke-width="1.1" />
<line x1="982.65" y1="336.6" x2="982.65" y2="327.6" stroke="#333" stroke-width="1.1" />
<line x1="982.65" y1="82.3" x2="982.65" y2="91.3" stroke="#333" stroke-width="1.1" />
<line x1="1062.12" y1="336.6" x2="1062.12" y2="327.6" stroke="#333" stroke-width="1.1" />
<line x1="1062.12" y1="82.3" x2="1062.12" y2="91.3" stroke="#333" stroke-width="1.1" />
<line x1="823.7" y1="324.11" x2="832.7" y2="324.11" stroke="#333" stroke-width="1.1" />
<line x1="1141.6" y1="324.11" x2="1132.6" y2="324.11" stroke="#333" stroke-width="1.1" />
<line x1="823.7" y1="266.7" x2="832.7" y2="266.7" stroke="#333" stroke-width="1.1" />
<line x1="1141.6" y1="266.7" x2="1132.6" y2="266.7" stroke="#333" stroke-width="1.1" />
<line x1="823.7" y1="209.3" x2="832.7" y2="209.3" stroke="#333" stroke-width="1.1" />
<line x1="1141.6" y1="209.3" x2="1132.6" y2="209.3" stroke="#333" stroke-width="1.1" />
<line x1="823.7" y1="151.89" x2="832.7" y2="151.89" stroke="#333" stroke-width="1.1" />
<line x1="1141.6" y1="151.89" x2="1132.6" y2="151.89" stroke="#333" stroke-width="1.1" />
<line x1="823.7" y1="94.49" x2="832.7" y2="94.49" stroke="#333" stroke-width="1.1" />
<line x1="1141.6" y1="94.49" x2="1132.6" y2="94.49" stroke="#333" stroke-width="1.1" />
<line x1="823.7" y1="335.59" x2="828.2" y2="335.59" stroke="#333" stroke-width="1.1" />
<line x1="1141.6" y1="335.59" x2="1137.1" y2="335.59" stroke="#333" stroke-width="1.1" />
<line x1="823.7" y1="312.63" x2="828.2" y2="312.63" stroke="#333" stroke-width="1.1" />
<line x1="1141.6" y1="312.63" x2="1137.1" y2="312.63" stroke="#333" stroke-width="1.1" />
<line x1="823.7" y1="301.15" x2="828.2" y2="301.15" stroke="#333" stroke-width="1.1" />
<line x1="1141.6" y1="301.15" x2="1137.1" y2="301.15" stroke="#333" stroke-width="1.1" />
<line x1="823.7" y1="289.67" x2="828.2" y2="289.67" stroke="#333" stroke-width="1.1" />
<line x1="1141.6" y1="289.67" x2="1137.1" y2="289.67" stroke="#333" stroke-width="1.1" />
<line x1="823.7" y1="278.19" x2="828.2" y2="278.19" stroke="#333" stroke-width="1.1" />
<line x1="1141.6" y1="278.19" x2="1137.1" y2="278.19" stroke="#333" stroke-width="1.1" />
<line x1="823.7" y1="255.22" x2="828.2" y2="255.22" stroke="#333" stroke-width="1.1" />
<line x1="1141.6" y1="255.22" x2="1137.1" y2="255.22" stroke="#333" stroke-width="1.1" />
<line x1="823.7" y1="243.74" x2="828.2" y2="243.74" stroke="#333" stroke-width="1.1" />
<line x1="1141.6" y1="243.74" x2="1137.1" y2="243.74" stroke="#333" stroke-width="1.1" />
<line x1="823.7" y1="232.26" x2="828.2" y2="232.26" stroke="#333" stroke-width="1.1" />
<line x1="1141.6" y1="232.26" x2="1137.1" y2="232.26" stroke="#333" stroke-width="1.1" />
<line x1="823.7" y1="220.78" x2="828.2" y2="220.78" stroke="#333" stroke-width="1.1" />
<line x1="1141.6" y1="220.78" x2="1137.1" y2="220.78" stroke="#333" stroke-width="1.1" />
<line x1="823.7" y1="197.82" x2="828.2" y2="197.82" stroke="#333" stroke-width="1.1" />
<line x1="1141.6" y1="197.82" x2="1137.1" y2="197.82" stroke="#333" stroke-width="1.1" />
<line x1="823.7" y1="186.34" x2="828.2" y2="186.34" stroke="#333" stroke-width="1.1" />
<line x1="1141.6" y1="186.34" x2="1137.1" y2="186.34" stroke="#333" stroke-width="1.1" />
<line x1="823.7" y1="174.86" x2="828.2" y2="174.86" stroke="#333" stroke-width="1.1" />
<line x1="1141.6" y1="174.86" x2="1137.1" y2="174.86" stroke="#333" stroke-width="1.1" />
<line x1="823.7" y1="163.38" x2="828.2" y2="163.38" stroke="#333" stroke-width="1.1" />
<line x1="1141.6" y1="163.38" x2="1137.1" y2="163.38" stroke="#333" stroke-width="1.1" />
<line x1="823.7" y1="140.41" x2="828.2" y2="140.41" stroke="#333" stroke-width="1.1" />
<line x1="1141.6" y1="140.41" x2="1137.1" y2="140.41" stroke="#333" stroke-width="1.1" />
<line x1="823.7" y1="128.93" x2="828.2" y2="128.93" stroke="#333" stroke-width="1.1" />
<line x1="1141.6" y1="128.93" x2="1137.1" y2="128.93" stroke="#333" stroke-width="1.1" />
<line x1="823.7" y1="117.45" x2="828.2" y2="117.45" stroke="#333" stroke-width="1.1" />
<line x1="1141.6" y1="117.45" x2="1137.1" y2="117.45" stroke="#333" stroke-width="1.1" />
<line x1="823.7" y1="105.97" x2="828.2" y2="105.97" stroke="#333" stroke-width="1.1" />
<line x1="1141.6" y1="105.97" x2="1137.1" y2="105.97" stroke="#333" stroke-width="1.1" />
<line x1="823.7" y1="83.01" x2="828.2" y2="83.01" stroke="#333" stroke-width="1.1" />
<line x1="1141.6" y1="83.01" x2="1137.1" y2="83.01" stroke="#333" stroke-width="1.1" />
<path d="M823.7 209.3 L824.32 211.3 L824.94 213.3 L825.56 215.29 L826.18 217.26 L826.8 219.21 L827.43 221.14 L828.05 223.04 L828.67 224.91 L829.29 226.73 L829.91 228.52 L830.53 230.26 L831.15 231.95 L831.77 233.59 L832.39 235.17 L833.01 236.69 L833.63 238.14 L834.26 239.53 L834.88 240.86 L835.5 242.11 L836.12 243.29 L836.74 244.39 L837.36 245.42 L837.98 246.38 L838.6 247.25 L839.22 248.05 L839.84 248.77 L840.46 249.42 L841.09 249.98 L841.71 250.47 L842.33 250.88 L842.95 251.21 L843.57 251.47 L844.19 251.65 L844.81 251.76 L845.43 251.8 L846.05 251.77 L846.67 251.67 L847.29 251.51 L847.92 251.28 L848.54 250.99 L849.16 250.64 L849.78 250.23 L850.4 249.77 L851.02 249.26 L851.64 248.69 L852.26 248.08 L852.88 247.42 L853.5 246.72 L854.12 245.98 L854.74 245.21 L855.37 244.4 L855.99 243.56 L856.61 242.69 L857.23 241.79 L857.85 240.87 L858.47 239.93 L859.09 238.98 L859.71 238.01 L860.33 237.03 L860.95 236.04 L861.57 235.04 L862.2 234.05 L862.82 233.05 L863.44 232.06 L864.06 231.08 L864.68 230.11 L865.3 229.15 L865.92 228.21 L866.54 227.3 L867.16 226.4 L867.78 225.54 L868.4 224.71 L869.03 223.92 L869.65 223.16 L870.27 222.45 L870.89 221.79 L871.51 221.18 L872.13 220.63 L872.75 220.13 L873.37 219.7 L873.99 219.33 L874.61 219.04 L875.23 218.82 L875.86 218.68 L876.48 218.62 L877.1 218.64 L877.72 218.75 L878.34 218.95 L878.96 219.24 L879.58 219.63 L880.2 220.11 L880.82 220.7 L881.44 221.39 L882.06 222.17 L882.69 223.06 L883.31 224.06 L883.93 225.16 L884.55 226.36 L885.17 227.66 L885.79 229.07 L886.41 230.58 L887.03 232.18 L887.65 233.88 L888.27 235.68 L888.89 237.56 L889.52 239.54 L890.14 241.59 L890.76 243.72 L891.38 245.92 L892 248.19 L892.62 250.53 L893.24 252.91 L893.86 255.35 L894.48 257.83 L895.1 260.34 L895.72 262.88 L896.35 265.44 L896.97 268.01 L897.59 270.58 L898.21 273.15 L898.83 275.71 L899.45 278.25 L900.07 280.75 L900.69 283.22 L901.31 285.64 L901.93 288 L902.55 290.31 L903.17 292.54 L903.8 294.69 L904.42 296.76 L905.04 298.73 L905.66 300.6 L906.28 302.37 L906.9 304.02 L907.52 305.55 L908.14 306.96 L908.76 308.25 L909.38 309.39 L910 310.41 L910.63 311.28 L911.25 312 L911.87 312.59 L912.49 313.02 L913.11 313.31 L913.73 313.45 L914.35 313.44 L914.97 313.28 L915.59 312.97 L916.21 312.52 L916.83 311.93 L917.46 311.19 L918.08 310.31 L918.7 309.3 L919.32 308.16 L919.94 306.89 L920.56 305.49 L921.18 303.98 L921.8 302.35 L922.42 300.62 L923.04 298.78 L923.66 296.85 L924.29 294.82 L924.91 292.71 L925.53 290.52 L926.15 288.25 L926.77 285.92 L927.39 283.52 L928.01 281.07 L928.63 278.56 L929.25 276.01 L929.87 273.43 L930.49 270.8 L931.12 268.15 L931.74 265.47 L932.36 262.78 L932.98 260.07 L933.6 257.34 L934.22 254.61 L934.84 251.88 L935.46 249.15 L936.08 246.42 L936.7 243.7 L937.32 240.99 L937.95 238.3 L938.57 235.61 L939.19 232.95 L939.81 230.3 L940.43 227.68 L941.05 225.08 L941.67 222.51 L942.29 219.96 L942.91 217.44 L943.53 214.95 L944.15 212.5 L944.78 210.08 L945.4 207.69 L946.02 205.34 L946.64 203.02 L947.26 200.75 L947.88 198.52 L948.5 196.33 L949.12 194.19 L949.74 192.09 L950.36 190.04 L950.98 188.05 L951.61 186.11 L952.23 184.23 L952.85 182.41 L953.47 180.65 L954.09 178.96 L954.71 177.34 L955.33 175.78 L955.95 174.31 L956.57 172.91 L957.19 171.6 L957.81 170.37 L958.43 169.24 L959.06 168.19 L959.68 167.25 L960.3 166.4 L960.92 165.66 L961.54 165.02 L962.16 164.49 L962.78 164.08 L963.4 163.78 L964.02 163.6 L964.64 163.54 L965.26 163.6 L965.89 163.78 L966.51 164.09 L967.13 164.52 L967.75 165.08 L968.37 165.76 L968.99 166.57 L969.61 167.5 L970.23 168.56 L970.85 169.73 L971.47 171.03 L972.09 172.44 L972.72 173.96 L973.34 175.59 L973.96 177.32 L974.58 179.16 L975.2 181.09 L975.82 183.11 L976.44 185.21 L977.06 187.39 L977.68 189.64 L978.3 191.96 L978.92 194.33 L979.55 196.75 L980.17 199.21 L980.79 201.7 L981.41 204.22 L982.03 206.76 L982.65 209.3 L983.27 211.84 L983.89 214.38 L984.51 216.9 L985.13 219.39 L985.75 221.85 L986.38 224.27 L987 226.64 L987.62 228.96 L988.24 231.21 L988.86 233.39 L989.48 235.49 L990.1 237.51 L990.72 239.44 L991.34 241.28 L991.96 243.01 L992.58 244.64 L993.21 246.16 L993.83 247.57 L994.45 248.87 L995.07 250.04 L995.69 251.1 L996.31 252.03 L996.93 252.84 L997.55 253.52 L998.17 254.08 L998.79 254.51 L999.41 254.82 L1000.04 255 L1000.66 255.06 L1001.28 255 L1001.9 254.82 L1002.52 254.52 L1003.14 254.11 L1003.76 253.58 L1004.38 252.94 L1005 252.2 L1005.62 251.35 L1006.24 250.41 L1006.87 249.36 L1007.49 248.23 L1008.11 247 L1008.73 245.69 L1009.35 244.29 L1009.97 242.82 L1010.59 241.26 L1011.21 239.64 L1011.83 237.95 L1012.45 236.19 L1013.07 234.37 L1013.69 232.49 L1014.32 230.55 L1014.94 228.56 L1015.56 226.51 L1016.18 224.41 L1016.8 222.27 L1017.42 220.08 L1018.04 217.85 L1018.66 215.58 L1019.28 213.26 L1019.9 210.91 L1020.52 208.52 L1021.15 206.1 L1021.77 203.65 L1022.39 201.16 L1023.01 198.64 L1023.63 196.09 L1024.25 193.52 L1024.87 190.92 L1025.49 188.3 L1026.11 185.65 L1026.73 182.99 L1027.35 180.3 L1027.98 177.61 L1028.6 174.9 L1029.22 172.18 L1029.84 169.45 L1030.46 166.72 L1031.08 163.99 L1031.7 161.26 L1032.32 158.53 L1032.94 155.82 L1033.56 153.13 L1034.18 150.45 L1034.81 147.8 L1035.43 145.17 L1036.05 142.59 L1036.67 140.04 L1037.29 137.53 L1037.91 135.08 L1038.53 132.68 L1039.15 130.35 L1039.77 128.08 L1040.39 125.89 L1041.01 123.78 L1041.64 121.75 L1042.26 119.82 L1042.88 117.98 L1043.5 116.25 L1044.12 114.62 L1044.74 113.11 L1045.36 111.71 L1045.98 110.44 L1046.6 109.3 L1047.22 108.29 L1047.84 107.41 L1048.47 106.67 L1049.09 106.08 L1049.71 105.63 L1050.33 105.32 L1050.95 105.16 L1051.57 105.15 L1052.19 105.29 L1052.81 105.58 L1053.43 106.01 L1054.05 106.6 L1054.67 107.32 L1055.3 108.19 L1055.92 109.21 L1056.54 110.35 L1057.16 111.64 L1057.78 113.05 L1058.4 114.58 L1059.02 116.23 L1059.64 118 L1060.26 119.87 L1060.88 121.84 L1061.5 123.91 L1062.12 126.06 L1062.75 128.29 L1063.37 130.6 L1063.99 132.96 L1064.61 135.38 L1065.23 137.85 L1065.85 140.35 L1066.47 142.89 L1067.09 145.45 L1067.71 148.02 L1068.33 150.59 L1068.95 153.16 L1069.58 155.72 L1070.2 158.26 L1070.82 160.77 L1071.44 163.25 L1072.06 165.69 L1072.68 168.07 L1073.3 170.41 L1073.92 172.68 L1074.54 174.88 L1075.16 177.01 L1075.78 179.06 L1076.41 181.04 L1077.03 182.92 L1077.65 184.72 L1078.27 186.42 L1078.89 188.02 L1079.51 189.53 L1080.13 190.94 L1080.75 192.24 L1081.37 193.44 L1081.99 194.54 L1082.61 195.54 L1083.24 196.43 L1083.86 197.21 L1084.48 197.9 L1085.1 198.49 L1085.72 198.97 L1086.34 199.36 L1086.96 199.65 L1087.58 199.85 L1088.2 199.96 L1088.82 199.98 L1089.44 199.92 L1090.07 199.78 L1090.69 199.56 L1091.31 199.27 L1091.93 198.9 L1092.55 198.47 L1093.17 197.97 L1093.79 197.42 L1094.41 196.81 L1095.03 196.15 L1095.65 195.44 L1096.27 194.68 L1096.9 193.89 L1097.52 193.06 L1098.14 192.2 L1098.76 191.3 L1099.38 190.39 L1100 189.45 L1100.62 188.49 L1101.24 187.52 L1101.86 186.54 L1102.48 185.55 L1103.1 184.55 L1103.73 183.56 L1104.35 182.56 L1104.97 181.57 L1105.59 180.59 L1106.21 179.62 L1106.83 178.67 L1107.45 177.73 L1108.07 176.81 L1108.69 175.91 L1109.31 175.04 L1109.93 174.2 L1110.56 173.39 L1111.18 172.62 L1111.8 171.88 L1112.42 171.18 L1113.04 170.52 L1113.66 169.91 L1114.28 169.34 L1114.9 168.83 L1115.52 168.37 L1116.14 167.96 L1116.76 167.61 L1117.38 167.32 L1118.01 167.09 L1118.63 166.93 L1119.25 166.83 L1119.87 166.8 L1120.49 166.84 L1121.11 166.95 L1121.73 167.13 L1122.35 167.39 L1122.97 167.72 L1123.59 168.13 L1124.21 168.62 L1124.84 169.18 L1125.46 169.83 L1126.08 170.55 L1126.7 171.35 L1127.32 172.22 L1127.94 173.18 L1128.56 174.21 L1129.18 175.31 L1129.8 176.49 L1130.42 177.74 L1131.04 179.07 L1131.67 180.46 L1132.29 181.91 L1132.91 183.43 L1133.53 185.01 L1134.15 186.65 L1134.77 188.34 L1135.39 190.08 L1136.01 191.87 L1136.63 193.69 L1137.25 195.56 L1137.87 197.46 L1138.5 199.39 L1139.12 201.34 L1139.74 203.31 L1140.36 205.3 L1140.98 207.3 L1141.6 209.3" fill="none" stroke="#006400" stroke-width="3.3" stroke-linejoin="round"/>
<path d="M819.2 209.3H828.2M823.7 204.8V213.8M824.17 224.91H833.17M828.67 220.41V229.41M829.13 238.14H838.13M833.63 233.64V242.64M834.1 247.25H843.1M838.6 242.75V251.75M836.59 249.98H845.59M841.09 245.48V254.48M839.07 251.47H848.07M843.57 246.97V255.97M841.55 251.77H850.55M846.05 247.27V256.27M844.04 250.99H853.04M848.54 246.49V255.49M846.52 249.26H855.52M851.02 244.76V253.76M849 246.72H858M853.5 242.22V251.22M853.97 239.93H862.97M858.47 235.43V244.43M858.94 232.06H867.94M863.44 227.56V236.56M863.9 224.71H872.9M868.4 220.21V229.21M868.87 219.7H877.87M873.37 215.2V224.2M871.36 218.68H880.36M875.86 214.18V223.18M873.84 218.95H882.84M878.34 214.45V223.45M878.81 224.06H887.81M883.31 219.56V228.56M883.77 235.68H892.77M888.27 231.18V240.18M888.74 252.91H897.74M893.24 248.41V257.41M893.71 273.15H902.71M898.21 268.65V277.65M898.67 292.54H907.67M903.17 288.04V297.04M903.64 306.96H912.64M908.14 302.46V311.46M908.61 313.31H917.61M913.11 308.81V317.81M911.09 312.97H920.09M915.59 308.47V317.47M913.58 310.31H922.58M918.08 305.81V314.81M918.54 298.78H927.54M923.04 294.28V303.28M923.51 281.07H932.51M928.01 276.57V285.57M928.48 260.07H937.48M932.98 255.57V264.57M933.45 238.3H942.45M937.95 233.8V242.8M938.41 217.44H947.41M942.91 212.94V221.94M943.38 198.52H952.38M947.88 194.02V203.02M948.35 182.41H957.35M952.85 177.91V186.91M953.31 170.37H962.31M957.81 165.87V174.87M958.28 164.08H967.28M962.78 159.58V168.58M960.76 163.6H969.76M965.26 159.1V168.1M963.25 165.08H972.25M967.75 160.58V169.58M968.22 173.96H977.22M972.72 169.46V178.46M973.18 189.64H982.18M977.68 185.14V194.14M978.15 209.3H987.15M982.65 204.8V213.8M983.12 228.96H992.12M987.62 224.46V233.46M988.08 244.64H997.08M992.58 240.14V249.14M993.05 253.52H1002.05M997.55 249.02V258.02M995.54 255H1004.54M1000.04 250.5V259.5M998.02 254.52H1007.02M1002.52 250.02V259.02M1002.99 248.23H1011.99M1007.49 243.73V252.73M1007.95 236.19H1016.95M1012.45 231.69V240.69M1012.92 220.08H1021.92M1017.42 215.58V224.58M1017.89 201.16H1026.89M1022.39 196.66V205.66M1022.85 180.3H1031.85M1027.35 175.8V184.8M1027.82 158.53H1036.82M1032.32 154.03V163.03M1032.79 137.53H1041.79M1037.29 133.03V142.03M1037.76 119.82H1046.76M1042.26 115.32V124.32M1042.72 108.29H1051.72M1047.22 103.79V112.79M1045.21 105.63H1054.21M1049.71 101.13V110.13M1047.69 105.29H1056.69M1052.19 100.79V109.79M1052.66 111.64H1061.66M1057.16 107.14V116.14M1057.62 126.06H1066.62M1062.12 121.56V130.56M1062.59 145.45H1071.59M1067.09 140.95V149.95M1067.56 165.69H1076.56M1072.06 161.19V170.19M1072.53 182.92H1081.53M1077.03 178.42V187.42M1077.49 194.54H1086.49M1081.99 190.04V199.04M1082.46 199.65H1091.46M1086.96 195.15V204.15M1084.94 199.92H1093.94M1089.44 195.42V204.42M1087.43 198.9H1096.43M1091.93 194.4V203.4M1092.4 193.89H1101.4M1096.9 189.39V198.39M1097.36 186.54H1106.36M1101.86 182.04V191.04M1102.33 178.67H1111.33M1106.83 174.17V183.17M1107.3 171.88H1116.3M1111.8 167.38V176.38M1109.78 169.34H1118.78M1114.28 164.84V173.84M1112.26 167.61H1121.26M1116.76 163.11V172.11M1114.75 166.83H1123.75M1119.25 162.33V171.33M1117.23 167.13H1126.23M1121.73 162.63V171.63M1119.71 168.62H1128.71M1124.21 164.12V173.12M1122.2 171.35H1131.2M1126.7 166.85V175.85M1127.17 180.46H1136.17M1131.67 175.96V184.96M1132.13 193.69H1141.13M1136.63 189.19V198.19M1137.1 209.3H1146.1M1141.6 204.8V213.8" fill="none" stroke="#006400" stroke-width="3"/>
<text x="824.2" y="368.9" font-family="Liberation Serif, serif" font-size="38.4" text-anchor="middle" letter-spacing="0.7"><tspan stroke="#000" stroke-width="0.55" font-size="38.4" dy="2.4">−</tspan><tspan stroke="#000" stroke-width="0.55" dy="-2.4">π</tspan></text>
<text x="903.67" y="368.9" font-family="Liberation Serif, serif" font-size="38.4" text-anchor="middle" letter-spacing="0.7"><tspan stroke="#000" stroke-width="0.55" font-size="38.4" dy="2.4">−</tspan><tspan stroke="#000" stroke-width="0.55" dy="-2.4">π</tspan>/2</text>
<text x="982.65" y="368.9" font-family="Liberation Serif, serif" font-size="38.4" text-anchor="middle" >0</text>
<text x="1062.62" y="368.9" font-family="Liberation Serif, serif" font-size="38.4" text-anchor="middle" letter-spacing="0.7"><tspan stroke="#000" stroke-width="0.55">π</tspan>/2</text>
<text x="1141.6" y="368.9" font-family="Liberation Serif, serif" font-size="38.4" text-anchor="middle" ><tspan stroke="#000" stroke-width="0.55">π</tspan></text>
<text x="822" y="337.11" font-family="Liberation Serif, serif" font-size="38.4" text-anchor="end" >-0.03</text>
<text x="822" y="279.7" font-family="Liberation Serif, serif" font-size="38.4" text-anchor="end" >-0.015</text>
<text x="822" y="222.3" font-family="Liberation Serif, serif" font-size="38.4" text-anchor="end" >0</text>
<text x="822" y="164.89" font-family="Liberation Serif, serif" font-size="38.4" text-anchor="end" >0.015</text>
<text x="822" y="107.49" font-family="Liberation Serif, serif" font-size="38.4" text-anchor="end" >0.03</text>
<text x="0" y="0" transform="translate(705.4 209) rotate(-90)" font-family="Liberation Serif, serif" font-size="37.5" text-anchor="middle" ><tspan font-style="italic">e</tspan><tspan font-style="italic">R</tspan><tspan font-size="30" dy="11.5">N</tspan><tspan font-style="italic" dy="-11.5">I</tspan><tspan font-size="30" dy="11.5">c</tspan><tspan dy="-11.5">(</tspan><tspan font-style="italic">ϕ</tspan>)/<tspan font-size="29.06" dy="-6.19">|</tspan><tspan dy="6.19">Δ</tspan><tspan font-size="30" dy="11.5">0</tspan><tspan font-size="29.06" dy="-17.69">|</tspan></text>
<text x="819.3" y="62" font-family="Liberation Sans, sans-serif" font-size="43" text-anchor="start" >e</text>
<text x="875.3" y="65.8" font-family="Liberation Serif, serif" font-size="38.4" text-anchor="start" ><tspan font-style="italic">T</tspan>/<tspan font-style="italic">T</tspan><tspan font-size="30.72" dy="10.3">c</tspan><tspan stroke="#000" stroke-width="0.75" dy="-10.3">=</tspan>0.10</text>
<rect x="823.7" y="444.4" width="317.8" height="254.2" fill="none" stroke="#2a2a2a" stroke-width="1.3"/>
<line x1="903.15" y1="698.6" x2="903.15" y2="689.6" stroke="#333" stroke-width="1.1" />
<line x1="903.15" y1="444.4" x2="903.15" y2="453.4" stroke="#333" stroke-width="1.1" />
<line x1="982.6" y1="698.6" x2="982.6" y2="689.6" stroke="#333" stroke-width="1.1" />
<line x1="982.6" y1="444.4" x2="982.6" y2="453.4" stroke="#333" stroke-width="1.1" />
<line x1="1062.05" y1="698.6" x2="1062.05" y2="689.6" stroke="#333" stroke-width="1.1" />
<line x1="1062.05" y1="444.4" x2="1062.05" y2="453.4" stroke="#333" stroke-width="1.1" />
<line x1="823.7" y1="687.3" x2="832.7" y2="687.3" stroke="#333" stroke-width="1.1" />
<line x1="1141.5" y1="687.3" x2="1132.5" y2="687.3" stroke="#333" stroke-width="1.1" />
<line x1="823.7" y1="629.45" x2="832.7" y2="629.45" stroke="#333" stroke-width="1.1" />
<line x1="1141.5" y1="629.45" x2="1132.5" y2="629.45" stroke="#333" stroke-width="1.1" />
<line x1="823.7" y1="571.6" x2="832.7" y2="571.6" stroke="#333" stroke-width="1.1" />
<line x1="1141.5" y1="571.6" x2="1132.5" y2="571.6" stroke="#333" stroke-width="1.1" />
<line x1="823.7" y1="513.75" x2="832.7" y2="513.75" stroke="#333" stroke-width="1.1" />
<line x1="1141.5" y1="513.75" x2="1132.5" y2="513.75" stroke="#333" stroke-width="1.1" />
<line x1="823.7" y1="455.9" x2="832.7" y2="455.9" stroke="#333" stroke-width="1.1" />
<line x1="1141.5" y1="455.9" x2="1132.5" y2="455.9" stroke="#333" stroke-width="1.1" />
<line x1="823.7" y1="675.73" x2="828.2" y2="675.73" stroke="#333" stroke-width="1.1" />
<line x1="1141.5" y1="675.73" x2="1137" y2="675.73" stroke="#333" stroke-width="1.1" />
<line x1="823.7" y1="664.16" x2="828.2" y2="664.16" stroke="#333" stroke-width="1.1" />
<line x1="1141.5" y1="664.16" x2="1137" y2="664.16" stroke="#333" stroke-width="1.1" />
<line x1="823.7" y1="652.59" x2="828.2" y2="652.59" stroke="#333" stroke-width="1.1" />
<line x1="1141.5" y1="652.59" x2="1137" y2="652.59" stroke="#333" stroke-width="1.1" />
<line x1="823.7" y1="641.02" x2="828.2" y2="641.02" stroke="#333" stroke-width="1.1" />
<line x1="1141.5" y1="641.02" x2="1137" y2="641.02" stroke="#333" stroke-width="1.1" />
<line x1="823.7" y1="617.88" x2="828.2" y2="617.88" stroke="#333" stroke-width="1.1" />
<line x1="1141.5" y1="617.88" x2="1137" y2="617.88" stroke="#333" stroke-width="1.1" />
<line x1="823.7" y1="606.31" x2="828.2" y2="606.31" stroke="#333" stroke-width="1.1" />
<line x1="1141.5" y1="606.31" x2="1137" y2="606.31" stroke="#333" stroke-width="1.1" />
<line x1="823.7" y1="594.74" x2="828.2" y2="594.74" stroke="#333" stroke-width="1.1" />
<line x1="1141.5" y1="594.74" x2="1137" y2="594.74" stroke="#333" stroke-width="1.1" />
<line x1="823.7" y1="583.17" x2="828.2" y2="583.17" stroke="#333" stroke-width="1.1" />
<line x1="1141.5" y1="583.17" x2="1137" y2="583.17" stroke="#333" stroke-width="1.1" />
<line x1="823.7" y1="560.03" x2="828.2" y2="560.03" stroke="#333" stroke-width="1.1" />
<line x1="1141.5" y1="560.03" x2="1137" y2="560.03" stroke="#333" stroke-width="1.1" />
<line x1="823.7" y1="548.46" x2="828.2" y2="548.46" stroke="#333" stroke-width="1.1" />
<line x1="1141.5" y1="548.46" x2="1137" y2="548.46" stroke="#333" stroke-width="1.1" />
<line x1="823.7" y1="536.89" x2="828.2" y2="536.89" stroke="#333" stroke-width="1.1" />
<line x1="1141.5" y1="536.89" x2="1137" y2="536.89" stroke="#333" stroke-width="1.1" />
<line x1="823.7" y1="525.32" x2="828.2" y2="525.32" stroke="#333" stroke-width="1.1" />
<line x1="1141.5" y1="525.32" x2="1137" y2="525.32" stroke="#333" stroke-width="1.1" />
<line x1="823.7" y1="502.18" x2="828.2" y2="502.18" stroke="#333" stroke-width="1.1" />
<line x1="1141.5" y1="502.18" x2="1137" y2="502.18" stroke="#333" stroke-width="1.1" />
<line x1="823.7" y1="490.61" x2="828.2" y2="490.61" stroke="#333" stroke-width="1.1" />
<line x1="1141.5" y1="490.61" x2="1137" y2="490.61" stroke="#333" stroke-width="1.1" />
<line x1="823.7" y1="479.04" x2="828.2" y2="479.04" stroke="#333" stroke-width="1.1" />
<line x1="1141.5" y1="479.04" x2="1137" y2="479.04" stroke="#333" stroke-width="1.1" />
<line x1="823.7" y1="467.47" x2="828.2" y2="467.47" stroke="#333" stroke-width="1.1" />
<line x1="1141.5" y1="467.47" x2="1137" y2="467.47" stroke="#333" stroke-width="1.1" />
<path d="M823.7 571.6 L824.32 573.49 L824.94 575.39 L825.56 577.28 L826.18 579.17 L826.8 581.05 L827.42 582.93 L828.04 584.81 L828.67 586.68 L829.29 588.54 L829.91 590.39 L830.53 592.24 L831.15 594.07 L831.77 595.9 L832.39 597.71 L833.01 599.52 L833.63 601.31 L834.25 603.08 L834.87 604.84 L835.49 606.59 L836.11 608.32 L836.73 610.04 L837.36 611.73 L837.98 613.41 L838.6 615.07 L839.22 616.71 L839.84 618.34 L840.46 619.94 L841.08 621.52 L841.7 623.07 L842.32 624.61 L842.94 626.12 L843.56 627.61 L844.18 629.08 L844.8 630.52 L845.42 631.93 L846.05 633.32 L846.67 634.69 L847.29 636.03 L847.91 637.34 L848.53 638.62 L849.15 639.88 L849.77 641.11 L850.39 642.31 L851.01 643.49 L851.63 644.63 L852.25 645.75 L852.87 646.84 L853.49 647.9 L854.11 648.93 L854.74 649.93 L855.36 650.9 L855.98 651.84 L856.6 652.75 L857.22 653.64 L857.84 654.49 L858.46 655.31 L859.08 656.11 L859.7 656.87 L860.32 657.6 L860.94 658.31 L861.56 658.98 L862.18 659.63 L862.8 660.25 L863.43 660.84 L864.05 661.4 L864.67 661.93 L865.29 662.43 L865.91 662.9 L866.53 663.35 L867.15 663.77 L867.77 664.16 L868.39 664.52 L869.01 664.86 L869.63 665.17 L870.25 665.45 L870.87 665.71 L871.49 665.94 L872.11 666.15 L872.74 666.33 L873.36 666.48 L873.98 666.62 L874.6 666.72 L875.22 666.81 L875.84 666.87 L876.46 666.91 L877.08 666.93 L877.7 666.92 L878.32 666.89 L878.94 666.85 L879.56 666.78 L880.18 666.69 L880.8 666.58 L881.43 666.45 L882.05 666.3 L882.67 666.14 L883.29 665.95 L883.91 665.75 L884.53 665.53 L885.15 665.29 L885.77 665.04 L886.39 664.77 L887.01 664.49 L887.63 664.19 L888.25 663.87 L888.87 663.54 L889.49 663.2 L890.12 662.84 L890.74 662.47 L891.36 662.09 L891.98 661.7 L892.6 661.29 L893.22 660.87 L893.84 660.44 L894.46 660 L895.08 659.55 L895.7 659.08 L896.32 658.61 L896.94 658.13 L897.56 657.64 L898.18 657.14 L898.81 656.63 L899.43 656.12 L900.05 655.59 L900.67 655.06 L901.29 654.52 L901.91 653.97 L902.53 653.42 L903.15 652.86 L903.77 652.29 L904.39 651.72 L905.01 651.14 L905.63 650.56 L906.25 649.97 L906.87 649.37 L907.49 648.78 L908.12 648.17 L908.74 647.56 L909.36 646.95 L909.98 646.33 L910.6 645.71 L911.22 645.09 L911.84 644.46 L912.46 643.83 L913.08 643.2 L913.7 642.56 L914.32 641.92 L914.94 641.27 L915.56 640.63 L916.18 639.98 L916.81 639.33 L917.43 638.68 L918.05 638.02 L918.67 637.36 L919.29 636.71 L919.91 636.04 L920.53 635.38 L921.15 634.72 L921.77 634.05 L922.39 633.39 L923.01 632.72 L923.63 632.05 L924.25 631.38 L924.87 630.71 L925.5 630.04 L926.12 629.37 L926.74 628.69 L927.36 628.02 L927.98 627.35 L928.6 626.67 L929.22 626 L929.84 625.32 L930.46 624.64 L931.08 623.97 L931.7 623.29 L932.32 622.62 L932.94 621.94 L933.56 621.27 L934.19 620.59 L934.81 619.92 L935.43 619.24 L936.05 618.57 L936.67 617.89 L937.29 617.22 L937.91 616.55 L938.53 615.87 L939.15 615.2 L939.77 614.53 L940.39 613.86 L941.01 613.19 L941.63 612.52 L942.25 611.86 L942.88 611.19 L943.5 610.53 L944.12 609.86 L944.74 609.2 L945.36 608.54 L945.98 607.88 L946.6 607.22 L947.22 606.56 L947.84 605.9 L948.46 605.25 L949.08 604.59 L949.7 603.94 L950.32 603.29 L950.94 602.64 L951.56 602 L952.19 601.35 L952.81 600.71 L953.43 600.06 L954.05 599.42 L954.67 598.78 L955.29 598.15 L955.91 597.51 L956.53 596.88 L957.15 596.24 L957.77 595.61 L958.39 594.98 L959.01 594.36 L959.63 593.73 L960.25 593.11 L960.88 592.49 L961.5 591.87 L962.12 591.25 L962.74 590.63 L963.36 590.02 L963.98 589.41 L964.6 588.79 L965.22 588.18 L965.84 587.58 L966.46 586.97 L967.08 586.36 L967.7 585.76 L968.32 585.16 L968.94 584.56 L969.57 583.96 L970.19 583.36 L970.81 582.77 L971.43 582.17 L972.05 581.58 L972.67 580.98 L973.29 580.39 L973.91 579.8 L974.53 579.21 L975.15 578.62 L975.77 578.03 L976.39 577.45 L977.01 576.86 L977.63 576.27 L978.26 575.69 L978.88 575.1 L979.5 574.52 L980.12 573.93 L980.74 573.35 L981.36 572.77 L981.98 572.18 L982.6 571.6 L983.22 571.02 L983.84 570.43 L984.46 569.85 L985.08 569.27 L985.7 568.68 L986.32 568.1 L986.94 567.51 L987.57 566.93 L988.19 566.34 L988.81 565.75 L989.43 565.17 L990.05 564.58 L990.67 563.99 L991.29 563.4 L991.91 562.81 L992.53 562.22 L993.15 561.62 L993.77 561.03 L994.39 560.43 L995.01 559.84 L995.63 559.24 L996.26 558.64 L996.88 558.04 L997.5 557.44 L998.12 556.84 L998.74 556.23 L999.36 555.62 L999.98 555.02 L1000.6 554.41 L1001.22 553.79 L1001.84 553.18 L1002.46 552.57 L1003.08 551.95 L1003.7 551.33 L1004.32 550.71 L1004.95 550.09 L1005.57 549.47 L1006.19 548.84 L1006.81 548.22 L1007.43 547.59 L1008.05 546.96 L1008.67 546.32 L1009.29 545.69 L1009.91 545.05 L1010.53 544.42 L1011.15 543.78 L1011.77 543.14 L1012.39 542.49 L1013.01 541.85 L1013.64 541.2 L1014.26 540.56 L1014.88 539.91 L1015.5 539.26 L1016.12 538.61 L1016.74 537.95 L1017.36 537.3 L1017.98 536.64 L1018.6 535.98 L1019.22 535.32 L1019.84 534.66 L1020.46 534 L1021.08 533.34 L1021.7 532.67 L1022.33 532.01 L1022.95 531.34 L1023.57 530.68 L1024.19 530.01 L1024.81 529.34 L1025.43 528.67 L1026.05 528 L1026.67 527.33 L1027.29 526.65 L1027.91 525.98 L1028.53 525.31 L1029.15 524.63 L1029.77 523.96 L1030.39 523.28 L1031.01 522.61 L1031.64 521.93 L1032.26 521.26 L1032.88 520.58 L1033.5 519.91 L1034.12 519.23 L1034.74 518.56 L1035.36 517.88 L1035.98 517.2 L1036.6 516.53 L1037.22 515.85 L1037.84 515.18 L1038.46 514.51 L1039.08 513.83 L1039.7 513.16 L1040.33 512.49 L1040.95 511.82 L1041.57 511.15 L1042.19 510.48 L1042.81 509.81 L1043.43 509.15 L1044.05 508.48 L1044.67 507.82 L1045.29 507.16 L1045.91 506.49 L1046.53 505.84 L1047.15 505.18 L1047.77 504.52 L1048.39 503.87 L1049.02 503.22 L1049.64 502.57 L1050.26 501.93 L1050.88 501.28 L1051.5 500.64 L1052.12 500 L1052.74 499.37 L1053.36 498.74 L1053.98 498.11 L1054.6 497.49 L1055.22 496.87 L1055.84 496.25 L1056.46 495.64 L1057.08 495.03 L1057.71 494.42 L1058.33 493.83 L1058.95 493.23 L1059.57 492.64 L1060.19 492.06 L1060.81 491.48 L1061.43 490.91 L1062.05 490.34 L1062.67 489.78 L1063.29 489.23 L1063.91 488.68 L1064.53 488.14 L1065.15 487.61 L1065.77 487.08 L1066.39 486.57 L1067.02 486.06 L1067.64 485.56 L1068.26 485.07 L1068.88 484.59 L1069.5 484.12 L1070.12 483.65 L1070.74 483.2 L1071.36 482.76 L1071.98 482.33 L1072.6 481.91 L1073.22 481.5 L1073.84 481.11 L1074.46 480.73 L1075.08 480.36 L1075.71 480 L1076.33 479.66 L1076.95 479.33 L1077.57 479.01 L1078.19 478.71 L1078.81 478.43 L1079.43 478.16 L1080.05 477.91 L1080.67 477.67 L1081.29 477.45 L1081.91 477.25 L1082.53 477.06 L1083.15 476.9 L1083.77 476.75 L1084.4 476.62 L1085.02 476.51 L1085.64 476.42 L1086.26 476.35 L1086.88 476.31 L1087.5 476.28 L1088.12 476.27 L1088.74 476.29 L1089.36 476.33 L1089.98 476.39 L1090.6 476.48 L1091.22 476.58 L1091.84 476.72 L1092.46 476.87 L1093.09 477.05 L1093.71 477.26 L1094.33 477.49 L1094.95 477.75 L1095.57 478.03 L1096.19 478.34 L1096.81 478.68 L1097.43 479.04 L1098.05 479.43 L1098.67 479.85 L1099.29 480.3 L1099.91 480.77 L1100.53 481.27 L1101.15 481.8 L1101.78 482.36 L1102.4 482.95 L1103.02 483.57 L1103.64 484.22 L1104.26 484.89 L1104.88 485.6 L1105.5 486.33 L1106.12 487.09 L1106.74 487.89 L1107.36 488.71 L1107.98 489.56 L1108.6 490.45 L1109.22 491.36 L1109.84 492.3 L1110.46 493.27 L1111.09 494.27 L1111.71 495.3 L1112.33 496.36 L1112.95 497.45 L1113.57 498.57 L1114.19 499.71 L1114.81 500.89 L1115.43 502.09 L1116.05 503.32 L1116.67 504.58 L1117.29 505.86 L1117.91 507.17 L1118.53 508.51 L1119.15 509.88 L1119.78 511.27 L1120.4 512.68 L1121.02 514.12 L1121.64 515.59 L1122.26 517.08 L1122.88 518.59 L1123.5 520.13 L1124.12 521.68 L1124.74 523.26 L1125.36 524.86 L1125.98 526.49 L1126.6 528.13 L1127.22 529.79 L1127.84 531.47 L1128.47 533.16 L1129.09 534.88 L1129.71 536.61 L1130.33 538.36 L1130.95 540.12 L1131.57 541.89 L1132.19 543.68 L1132.81 545.49 L1133.43 547.3 L1134.05 549.13 L1134.67 550.96 L1135.29 552.81 L1135.91 554.66 L1136.53 556.52 L1137.16 558.39 L1137.78 560.27 L1138.4 562.15 L1139.02 564.03 L1139.64 565.92 L1140.26 567.81 L1140.88 569.71 L1141.5 571.6" fill="none" stroke="#006400" stroke-width="3.3" stroke-linejoin="round"/>
<path d="M819.2 571.6H828.2M823.7 567.1V576.1M824.17 586.68H833.17M828.67 582.18V591.18M829.13 601.31H838.13M833.63 596.81V605.81M834.1 615.07H843.1M838.6 610.57V619.57M839.06 627.61H848.06M843.56 623.11V632.11M844.03 638.62H853.03M848.53 634.12V643.12M848.99 647.9H857.99M853.49 643.4V652.4M853.96 655.31H862.96M858.46 650.81V659.81M858.93 660.84H867.93M863.43 656.34V665.34M863.89 664.52H872.89M868.39 660.02V669.02M868.86 666.48H877.86M873.36 661.98V670.98M873.82 666.89H882.82M878.32 662.39V671.39M878.79 665.95H887.79M883.29 661.45V670.45M881.27 665.04H890.27M885.77 660.54V669.54M883.75 663.87H892.75M888.25 659.37V668.37M886.24 662.47H895.24M890.74 657.97V666.97M888.72 660.87H897.72M893.22 656.37V665.37M891.2 659.08H900.2M895.7 654.58V663.58M893.68 657.14H902.68M898.18 652.64V661.64M896.17 655.06H905.17M900.67 650.56V659.56M898.65 652.86H907.65M903.15 648.36V657.36M901.13 650.56H910.13M905.63 646.06V655.06M903.62 648.17H912.62M908.12 643.67V652.67M906.1 645.71H915.1M910.6 641.21V650.21M908.58 643.2H917.58M913.08 638.7V647.7M911.06 640.63H920.06M915.56 636.13V645.13M913.55 638.02H922.55M918.05 633.52V642.52M916.03 635.38H925.03M920.53 630.88V639.88M918.51 632.72H927.51M923.01 628.22V637.22M921 630.04H930M925.5 625.54V634.54M923.48 627.35H932.48M927.98 622.85V631.85M925.96 624.64H934.96M930.46 620.14V629.14M928.44 621.94H937.44M932.94 617.44V626.44M930.93 619.24H939.93M935.43 614.74V623.74M933.41 616.55H942.41M937.91 612.05V621.05M935.89 613.86H944.89M940.39 609.36V618.36M938.38 611.19H947.38M942.88 606.69V615.69M940.86 608.54H949.86M945.36 604.04V613.04M943.34 605.9H952.34M947.84 601.4V610.4M945.82 603.29H954.82M950.32 598.79V607.79M948.31 600.71H957.31M952.81 596.21V605.21M950.79 598.15H959.79M955.29 593.65V602.65M953.27 595.61H962.27M957.77 591.11V600.11M955.75 593.11H964.75M960.25 588.61V597.61M958.24 590.63H967.24M962.74 586.13V595.13M960.72 588.18H969.72M965.22 583.68V592.68M963.2 585.76H972.2M967.7 581.26V590.26M965.69 583.36H974.69M970.19 578.86V587.86M968.17 580.98H977.17M972.67 576.48V585.48M970.65 578.62H979.65M975.15 574.12V583.12M973.13 576.27H982.13M977.63 571.77V580.77M975.62 573.93H984.62M980.12 569.43V578.43M978.1 571.6H987.1M982.6 567.1V576.1M980.58 569.27H989.58M985.08 564.77V573.77M983.07 566.93H992.07M987.57 562.43V571.43M985.55 564.58H994.55M990.05 560.08V569.08M988.03 562.22H997.03M992.53 557.72V566.72M990.51 559.84H999.51M995.01 555.34V564.34M993 557.44H1002M997.5 552.94V561.94M995.48 555.02H1004.48M999.98 550.52V559.52M997.96 552.57H1006.96M1002.46 548.07V557.07M1000.45 550.09H1009.45M1004.95 545.59V554.59M1002.93 547.59H1011.93M1007.43 543.09V552.09M1005.41 545.05H1014.41M1009.91 540.55V549.55M1007.89 542.49H1016.89M1012.39 537.99V546.99M1010.38 539.91H1019.38M1014.88 535.41V544.41M1012.86 537.3H1021.86M1017.36 532.8V541.8M1015.34 534.66H1024.34M1019.84 530.16V539.16M1017.83 532.01H1026.83M1022.33 527.51V536.51M1020.31 529.34H1029.31M1024.81 524.84V533.84M1022.79 526.65H1031.79M1027.29 522.15V531.15M1025.27 523.96H1034.27M1029.77 519.46V528.46M1027.76 521.26H1036.76M1032.26 516.76V525.76M1030.24 518.56H1039.24M1034.74 514.06V523.06M1032.72 515.85H1041.72M1037.22 511.35V520.35M1035.2 513.16H1044.2M1039.7 508.66V517.66M1037.69 510.48H1046.69M1042.19 505.98V514.98M1040.17 507.82H1049.17M1044.67 503.32V512.32M1042.65 505.18H1051.65M1047.15 500.68V509.68M1045.14 502.57H1054.14M1049.64 498.07V507.07M1047.62 500H1056.62M1052.12 495.5V504.5M1050.1 497.49H1059.1M1054.6 492.99V501.99M1052.58 495.03H1061.58M1057.08 490.53V499.53M1055.07 492.64H1064.07M1059.57 488.14V497.14M1057.55 490.34H1066.55M1062.05 485.84V494.84M1060.03 488.14H1069.03M1064.53 483.64V492.64M1062.52 486.06H1071.52M1067.02 481.56V490.56M1065 484.12H1074M1069.5 479.62V488.62M1067.48 482.33H1076.48M1071.98 477.83V486.83M1069.96 480.73H1078.96M1074.46 476.23V485.23M1072.45 479.33H1081.45M1076.95 474.83V483.83M1074.93 478.16H1083.93M1079.43 473.66V482.66M1077.41 477.25H1086.41M1081.91 472.75V481.75M1082.38 476.31H1091.38M1086.88 471.81V480.81M1087.34 476.72H1096.34M1091.84 472.22V481.22M1092.31 478.68H1101.31M1096.81 474.18V483.18M1097.28 482.36H1106.28M1101.78 477.86V486.86M1102.24 487.89H1111.24M1106.74 483.39V492.39M1107.21 495.3H1116.21M1111.71 490.8V499.8M1112.17 504.58H1121.17M1116.67 500.08V509.08M1117.14 515.59H1126.14M1121.64 511.09V520.09M1122.1 528.13H1131.1M1126.6 523.63V532.63M1127.07 541.89H1136.07M1131.57 537.39V546.39M1132.03 556.52H1141.03M1136.53 552.02V561.02M1137 571.6H1146M1141.5 567.1V576.1" fill="none" stroke="#006400" stroke-width="3"/>
<text x="824.2" y="730.9" font-family="Liberation Serif, serif" font-size="38.4" text-anchor="middle" letter-spacing="0.7"><tspan stroke="#000" stroke-width="0.55" font-size="38.4" dy="2.4">−</tspan><tspan stroke="#000" stroke-width="0.55" dy="-2.4">π</tspan></text>
<text x="903.65" y="730.9" font-family="Liberation Serif, serif" font-size="38.4" text-anchor="middle" letter-spacing="0.7"><tspan stroke="#000" stroke-width="0.55" font-size="38.4" dy="2.4">−</tspan><tspan stroke="#000" stroke-width="0.55" dy="-2.4">π</tspan>/2</text>
<text x="982.6" y="730.9" font-family="Liberation Serif, serif" font-size="38.4" text-anchor="middle" >0</text>
<text x="1062.55" y="730.9" font-family="Liberation Serif, serif" font-size="38.4" text-anchor="middle" letter-spacing="0.7"><tspan stroke="#000" stroke-width="0.55">π</tspan>/2</text>
<text x="1141.5" y="730.9" font-family="Liberation Serif, serif" font-size="38.4" text-anchor="middle" ><tspan stroke="#000" stroke-width="0.55">π</tspan></text>
<text x="822" y="700.3" font-family="Liberation Serif, serif" font-size="38.4" text-anchor="end" >-0.01</text>
<text x="822" y="642.45" font-family="Liberation Serif, serif" font-size="38.4" text-anchor="end" >-0.005</text>
<text x="822" y="584.6" font-family="Liberation Serif, serif" font-size="38.4" text-anchor="end" >0</text>
<text x="822" y="526.75" font-family="Liberation Serif, serif" font-size="38.4" text-anchor="end" >0.005</text>
<text x="822" y="468.9" font-family="Liberation Serif, serif" font-size="38.4" text-anchor="end" >0.01</text>
<text x="0" y="0" transform="translate(705.4 571.5) rotate(-90)" font-family="Liberation Serif, serif" font-size="37.5" text-anchor="middle" ><tspan font-style="italic">e</tspan><tspan font-style="italic">R</tspan><tspan font-size="30" dy="11.5">N</tspan><tspan font-style="italic" dy="-11.5">I</tspan><tspan font-size="30" dy="11.5">c</tspan><tspan dy="-11.5">(</tspan><tspan font-style="italic">ϕ</tspan>)/<tspan font-size="29.06" dy="-6.19">|</tspan><tspan dy="6.19">Δ</tspan><tspan font-size="30" dy="11.5">0</tspan><tspan font-size="29.06" dy="-17.69">|</tspan></text>
<text x="984.3" y="769.5" font-family="Liberation Serif, serif" font-size="37" text-anchor="middle" ><tspan font-style="italic">ϕ</tspan></text>
<text x="822" y="424.7" font-family="Liberation Sans, sans-serif" font-size="43" text-anchor="start" >f</text>
<text x="871" y="428.4" font-family="Liberation Serif, serif" font-size="38.4" text-anchor="start" ><tspan font-style="italic">T</tspan>/<tspan font-style="italic">T</tspan><tspan font-size="30.72" dy="10.3">c</tspan><tspan stroke="#000" stroke-width="0.75" dy="-10.3">=</tspan>0.50</text>
<rect x="1312.5" y="83" width="317.9" height="254.8" fill="none" stroke="#000" stroke-width="1.4"/>
<line x1="1471.45" y1="337.8" x2="1471.45" y2="328.8" stroke="#333" stroke-width="1.1" />
<line x1="1471.45" y1="83" x2="1471.45" y2="92" stroke="#333" stroke-width="1.1" />
<line x1="1344.29" y1="337.8" x2="1344.29" y2="333.3" stroke="#333" stroke-width="1.1" />
<line x1="1344.29" y1="83" x2="1344.29" y2="87.5" stroke="#333" stroke-width="1.1" />
<line x1="1376.08" y1="337.8" x2="1376.08" y2="333.3" stroke="#333" stroke-width="1.1" />
<line x1="1376.08" y1="83" x2="1376.08" y2="87.5" stroke="#333" stroke-width="1.1" />
<line x1="1407.87" y1="337.8" x2="1407.87" y2="333.3" stroke="#333" stroke-width="1.1" />
<line x1="1407.87" y1="83" x2="1407.87" y2="87.5" stroke="#333" stroke-width="1.1" />
<line x1="1439.66" y1="337.8" x2="1439.66" y2="333.3" stroke="#333" stroke-width="1.1" />
<line x1="1439.66" y1="83" x2="1439.66" y2="87.5" stroke="#333" stroke-width="1.1" />
<line x1="1503.24" y1="337.8" x2="1503.24" y2="333.3" stroke="#333" stroke-width="1.1" />
<line x1="1503.24" y1="83" x2="1503.24" y2="87.5" stroke="#333" stroke-width="1.1" />
<line x1="1535.03" y1="337.8" x2="1535.03" y2="333.3" stroke="#333" stroke-width="1.1" />
<line x1="1535.03" y1="83" x2="1535.03" y2="87.5" stroke="#333" stroke-width="1.1" />
<line x1="1566.82" y1="337.8" x2="1566.82" y2="333.3" stroke="#333" stroke-width="1.1" />
<line x1="1566.82" y1="83" x2="1566.82" y2="87.5" stroke="#333" stroke-width="1.1" />
<line x1="1598.61" y1="337.8" x2="1598.61" y2="333.3" stroke="#333" stroke-width="1.1" />
<line x1="1598.61" y1="83" x2="1598.61" y2="87.5" stroke="#333" stroke-width="1.1" />
<line x1="1312.5" y1="325.9" x2="1321.5" y2="325.9" stroke="#333" stroke-width="1.1" />
<line x1="1630.4" y1="325.9" x2="1621.4" y2="325.9" stroke="#333" stroke-width="1.1" />
<line x1="1312.5" y1="268.2" x2="1321.5" y2="268.2" stroke="#333" stroke-width="1.1" />
<line x1="1630.4" y1="268.2" x2="1621.4" y2="268.2" stroke="#333" stroke-width="1.1" />
<line x1="1312.5" y1="210.5" x2="1321.5" y2="210.5" stroke="#333" stroke-width="1.1" />
<line x1="1630.4" y1="210.5" x2="1621.4" y2="210.5" stroke="#333" stroke-width="1.1" />
<line x1="1312.5" y1="152.8" x2="1321.5" y2="152.8" stroke="#333" stroke-width="1.1" />
<line x1="1630.4" y1="152.8" x2="1621.4" y2="152.8" stroke="#333" stroke-width="1.1" />
<line x1="1312.5" y1="95.1" x2="1321.5" y2="95.1" stroke="#333" stroke-width="1.1" />
<line x1="1630.4" y1="95.1" x2="1621.4" y2="95.1" stroke="#333" stroke-width="1.1" />
<line x1="1312.5" y1="314.36" x2="1317" y2="314.36" stroke="#333" stroke-width="1.1" />
<line x1="1630.4" y1="314.36" x2="1625.9" y2="314.36" stroke="#333" stroke-width="1.1" />
<line x1="1312.5" y1="302.82" x2="1317" y2="302.82" stroke="#333" stroke-width="1.1" />
<line x1="1630.4" y1="302.82" x2="1625.9" y2="302.82" stroke="#333" stroke-width="1.1" />
<line x1="1312.5" y1="291.28" x2="1317" y2="291.28" stroke="#333" stroke-width="1.1" />
<line x1="1630.4" y1="291.28" x2="1625.9" y2="291.28" stroke="#333" stroke-width="1.1" />
<line x1="1312.5" y1="279.74" x2="1317" y2="279.74" stroke="#333" stroke-width="1.1" />
<line x1="1630.4" y1="279.74" x2="1625.9" y2="279.74" stroke="#333" stroke-width="1.1" />
<line x1="1312.5" y1="256.66" x2="1317" y2="256.66" stroke="#333" stroke-width="1.1" />
<line x1="1630.4" y1="256.66" x2="1625.9" y2="256.66" stroke="#333" stroke-width="1.1" />
<line x1="1312.5" y1="245.12" x2="1317" y2="245.12" stroke="#333" stroke-width="1.1" />
<line x1="1630.4" y1="245.12" x2="1625.9" y2="245.12" stroke="#333" stroke-width="1.1" />
<line x1="1312.5" y1="233.58" x2="1317" y2="233.58" stroke="#333" stroke-width="1.1" />
<line x1="1630.4" y1="233.58" x2="1625.9" y2="233.58" stroke="#333" stroke-width="1.1" />
<line x1="1312.5" y1="222.04" x2="1317" y2="222.04" stroke="#333" stroke-width="1.1" />
<line x1="1630.4" y1="222.04" x2="1625.9" y2="222.04" stroke="#333" stroke-width="1.1" />
<line x1="1312.5" y1="198.96" x2="1317" y2="198.96" stroke="#333" stroke-width="1.1" />
<line x1="1630.4" y1="198.96" x2="1625.9" y2="198.96" stroke="#333" stroke-width="1.1" />
<line x1="1312.5" y1="187.42" x2="1317" y2="187.42" stroke="#333" stroke-width="1.1" />
<line x1="1630.4" y1="187.42" x2="1625.9" y2="187.42" stroke="#333" stroke-width="1.1" />
<line x1="1312.5" y1="175.88" x2="1317" y2="175.88" stroke="#333" stroke-width="1.1" />
<line x1="1630.4" y1="175.88" x2="1625.9" y2="175.88" stroke="#333" stroke-width="1.1" />
<line x1="1312.5" y1="164.34" x2="1317" y2="164.34" stroke="#333" stroke-width="1.1" />
<line x1="1630.4" y1="164.34" x2="1625.9" y2="164.34" stroke="#333" stroke-width="1.1" />
<line x1="1312.5" y1="141.26" x2="1317" y2="141.26" stroke="#333" stroke-width="1.1" />
<line x1="1630.4" y1="141.26" x2="1625.9" y2="141.26" stroke="#333" stroke-width="1.1" />
<line x1="1312.5" y1="129.72" x2="1317" y2="129.72" stroke="#333" stroke-width="1.1" />
<line x1="1630.4" y1="129.72" x2="1625.9" y2="129.72" stroke="#333" stroke-width="1.1" />
<line x1="1312.5" y1="118.18" x2="1317" y2="118.18" stroke="#333" stroke-width="1.1" />
<line x1="1630.4" y1="118.18" x2="1625.9" y2="118.18" stroke="#333" stroke-width="1.1" />
<line x1="1312.5" y1="106.64" x2="1317" y2="106.64" stroke="#333" stroke-width="1.1" />
<line x1="1630.4" y1="106.64" x2="1625.9" y2="106.64" stroke="#333" stroke-width="1.1" />
<line x1="1312.5" y1="83.56" x2="1317" y2="83.56" stroke="#333" stroke-width="1.1" />
<line x1="1630.4" y1="83.56" x2="1625.9" y2="83.56" stroke="#333" stroke-width="1.1" />
<path d="M1320.45 111.26 L1328.39 120.83 L1336.34 129.49 L1344.29 137.57 L1360.18 145.07 L1376.08 149.11 L1407.87 153.84 L1439.66 160.3 L1471.45 168.03 L1503.24 176.69 L1535.03 185.23 L1566.82 194.34 L1598.61 201.96 L1630.4 210.5" fill="none" stroke="#ff0000" stroke-width="3.8" />
<path d="M1316.05 111.26H1324.85M1320.45 106.86V115.66M1323.99 120.83H1332.8M1328.39 116.43V125.23M1331.94 129.49H1340.74M1336.34 125.09V133.89M1339.89 137.57H1348.69M1344.29 133.17V141.97M1355.78 145.07H1364.59M1360.18 140.67V149.47M1371.68 149.11H1380.48M1376.08 144.71V153.51M1403.47 153.84H1412.27M1407.87 149.44V158.24M1435.26 160.3H1444.06M1439.66 155.9V164.7M1467.05 168.03H1475.85M1471.45 163.63V172.43M1498.84 176.69H1507.64M1503.24 172.29V181.09M1530.63 185.23H1539.43M1535.03 180.83V189.63M1562.42 194.34H1571.22M1566.82 189.94V198.74M1594.21 201.96H1603.01M1598.61 197.56V206.36M1626 210.5H1634.8M1630.4 206.1V214.9" fill="none" stroke="#ff0000" stroke-width="3"/>
<path d="M1320.45 213.15 L1328.39 217.65 L1336.34 218.69 L1344.29 218.69 L1360.18 222.73 L1376.08 227.93 L1407.87 230.58 L1439.66 227.93 L1471.45 222.73 L1503.24 218.23 L1535.03 215.58 L1566.82 212.92 L1598.61 211.31 L1630.4 210.5" fill="none" stroke="#0000ff" stroke-width="3.6" stroke-dasharray="24.7 6.3" />
<path d="M1316.35 209.05L1324.55 217.25M1316.35 217.25L1324.55 209.05M1324.3 213.55L1332.49 221.75M1324.3 221.75L1332.49 213.55M1332.24 214.59L1340.44 222.79M1332.24 222.79L1340.44 214.59M1340.19 214.59L1348.39 222.79M1340.19 222.79L1348.39 214.59M1356.09 218.63L1364.28 226.83M1356.09 226.83L1364.28 218.63M1371.98 223.83L1380.18 232.03M1371.98 232.03L1380.18 223.83M1403.77 226.48L1411.97 234.68M1403.77 234.68L1411.97 226.48M1435.56 223.83L1443.76 232.03M1435.56 232.03L1443.76 223.83M1467.35 218.63L1475.55 226.83M1467.35 226.83L1475.55 218.63M1499.14 214.13L1507.34 222.33M1499.14 222.33L1507.34 214.13M1530.93 211.48L1539.13 219.68M1530.93 219.68L1539.13 211.48M1562.72 208.82L1570.92 217.02M1562.72 217.02L1570.92 208.82M1594.51 207.21L1602.71 215.41M1594.51 215.41L1602.71 207.21M1626.3 206.4L1634.5 214.6M1626.3 214.6L1634.5 206.4" fill="none" stroke="#0000ff" stroke-width="3.5"/>
<path d="M1320.45 301.55 L1328.39 288.28 L1336.34 267.74 L1344.29 249.39 L1360.18 222.39 L1376.08 209.92 L1407.87 204.38 L1439.66 205.42 L1471.45 208.08 L1503.24 209.92 L1535.03 210.5 L1566.82 210.5 L1598.61 210.5 L1630.4 210.5" fill="none" stroke="#006400" stroke-width="3.2" stroke-dasharray="12.6 6.3" />
<path d="M1316.45 297.55L1324.45 305.55M1316.45 305.55L1324.45 297.55M1320.45 296.95V306.15M1315.85 301.55H1325.05M1324.39 284.28L1332.39 292.28M1324.39 292.28L1332.39 284.28M1328.39 283.68V292.88M1323.8 288.28H1332.99M1332.34 263.74L1340.34 271.74M1332.34 271.74L1340.34 263.74M1336.34 263.14V272.34M1331.74 267.74H1340.94M1340.29 245.39L1348.29 253.39M1340.29 253.39L1348.29 245.39M1344.29 244.79V253.99M1339.69 249.39H1348.89M1356.18 218.39L1364.18 226.39M1356.18 226.39L1364.18 218.39M1360.18 217.79V226.99M1355.59 222.39H1364.78M1372.08 205.92L1380.08 213.92M1372.08 213.92L1380.08 205.92M1376.08 205.32V214.52M1371.48 209.92H1380.68M1403.87 200.38L1411.87 208.38M1403.87 208.38L1411.87 200.38M1407.87 199.78V208.98M1403.27 204.38H1412.47M1435.66 201.42L1443.66 209.42M1435.66 209.42L1443.66 201.42M1439.66 200.82V210.02M1435.06 205.42H1444.26M1467.45 204.08L1475.45 212.08M1467.45 212.08L1475.45 204.08M1471.45 203.48V212.68M1466.85 208.08H1476.05M1499.24 205.92L1507.24 213.92M1499.24 213.92L1507.24 205.92M1503.24 205.32V214.52M1498.64 209.92H1507.84M1531.03 206.5L1539.03 214.5M1531.03 214.5L1539.03 206.5M1535.03 205.9V215.1M1530.43 210.5H1539.63M1562.82 206.5L1570.82 214.5M1562.82 214.5L1570.82 206.5M1566.82 205.9V215.1M1562.22 210.5H1571.42M1594.61 206.5L1602.61 214.5M1594.61 214.5L1602.61 206.5M1598.61 205.9V215.1M1594.01 210.5H1603.21M1626.4 206.5L1634.4 214.5M1626.4 214.5L1634.4 206.5M1630.4 205.9V215.1M1625.8 210.5H1635" fill="none" stroke="#006400" stroke-width="3.4"/>
<path d="M1320.45 322.67 L1328.39 312.4 L1336.34 291.97 L1344.29 272.24 L1360.18 244.31 L1376.08 228.96 L1407.87 216.27 L1439.66 212.12 L1471.45 210.96 L1503.24 210.5 L1535.03 210.5 L1566.82 210.5 L1598.61 210.5 L1630.4 210.5" fill="none" stroke="#000" stroke-width="3" stroke-dasharray="6 6" />
<rect x="1316.45" y="318.67" width="8.0" height="8.0" fill="none" stroke="#000" stroke-width="3.4"/><rect x="1319.55" y="321.77" width="1.8" height="1.8" fill="#000"/>
<rect x="1324.39" y="308.4" width="8.0" height="8.0" fill="none" stroke="#000" stroke-width="3.4"/><rect x="1327.49" y="311.5" width="1.8" height="1.8" fill="#000"/>
<rect x="1332.34" y="287.97" width="8.0" height="8.0" fill="none" stroke="#000" stroke-width="3.4"/><rect x="1335.44" y="291.07" width="1.8" height="1.8" fill="#000"/>
<rect x="1340.29" y="268.24" width="8.0" height="8.0" fill="none" stroke="#000" stroke-width="3.4"/><rect x="1343.39" y="271.34" width="1.8" height="1.8" fill="#000"/>
<rect x="1356.18" y="240.31" width="8.0" height="8.0" fill="none" stroke="#000" stroke-width="3.4"/><rect x="1359.28" y="243.41" width="1.8" height="1.8" fill="#000"/>
<rect x="1372.08" y="224.96" width="8.0" height="8.0" fill="none" stroke="#000" stroke-width="3.4"/><rect x="1375.18" y="228.06" width="1.8" height="1.8" fill="#000"/>
<rect x="1403.87" y="212.27" width="8.0" height="8.0" fill="none" stroke="#000" stroke-width="3.4"/><rect x="1406.97" y="215.37" width="1.8" height="1.8" fill="#000"/>
<rect x="1435.66" y="208.12" width="8.0" height="8.0" fill="none" stroke="#000" stroke-width="3.4"/><rect x="1438.76" y="211.22" width="1.8" height="1.8" fill="#000"/>
<rect x="1467.45" y="206.96" width="8.0" height="8.0" fill="none" stroke="#000" stroke-width="3.4"/><rect x="1470.55" y="210.06" width="1.8" height="1.8" fill="#000"/>
<rect x="1499.24" y="206.5" width="8.0" height="8.0" fill="none" stroke="#000" stroke-width="3.4"/><rect x="1502.34" y="209.6" width="1.8" height="1.8" fill="#000"/>
<rect x="1531.03" y="206.5" width="8.0" height="8.0" fill="none" stroke="#000" stroke-width="3.4"/><rect x="1534.13" y="209.6" width="1.8" height="1.8" fill="#000"/>
<rect x="1562.82" y="206.5" width="8.0" height="8.0" fill="none" stroke="#000" stroke-width="3.4"/><rect x="1565.92" y="209.6" width="1.8" height="1.8" fill="#000"/>
<rect x="1594.61" y="206.5" width="8.0" height="8.0" fill="none" stroke="#000" stroke-width="3.4"/><rect x="1597.71" y="209.6" width="1.8" height="1.8" fill="#000"/>
<rect x="1626.4" y="206.5" width="8.0" height="8.0" fill="none" stroke="#000" stroke-width="3.4"/><rect x="1629.5" y="209.6" width="1.8" height="1.8" fill="#000"/>
<text x="1316.7" y="369.6" font-family="Liberation Serif, serif" font-size="38.4" text-anchor="middle" >0</text>
<text x="1475.65" y="369.6" font-family="Liberation Serif, serif" font-size="38.4" text-anchor="middle" >0.5</text>
<text x="1634.6" y="369.6" font-family="Liberation Serif, serif" font-size="38.4" text-anchor="middle" >1</text>
<text x="1310.8" y="338.9" font-family="Liberation Serif, serif" font-size="38.4" text-anchor="end" >-0.01</text>
<text x="1310.8" y="281.2" font-family="Liberation Serif, serif" font-size="38.4" text-anchor="end" >-0.005</text>
<text x="1310.8" y="223.5" font-family="Liberation Serif, serif" font-size="38.4" text-anchor="end" >0</text>
<text x="1310.8" y="165.8" font-family="Liberation Serif, serif" font-size="38.4" text-anchor="end" >0.005</text>
<text x="1310.8" y="108.1" font-family="Liberation Serif, serif" font-size="38.4" text-anchor="end" >0.01</text>
<text x="0" y="0" transform="translate(1190 210.8) rotate(-90)" font-family="Liberation Serif, serif" font-size="37.5" text-anchor="middle" ><tspan font-style="italic">e</tspan><tspan font-style="italic">R</tspan><tspan font-size="30" dy="12">N</tspan><tspan font-style="italic" dy="-12">I</tspan><tspan font-size="30" dy="12">1,2,3,4</tspan><tspan dy="-12">/</tspan><tspan stroke="#000" stroke-width="0.75" font-size="29.06" dy="-6.19">|</tspan><tspan dy="6.19">Δ</tspan><tspan font-size="30" dy="12">0</tspan><tspan stroke="#000" stroke-width="0.75" font-size="29.06" dy="-18.19">|</tspan></text>
<text x="1279.5" y="59" font-family="Liberation Sans, sans-serif" font-size="43" text-anchor="start" >g</text>
<text x="1337.2" y="28.6" font-family="Liberation Serif, serif" font-size="35" text-anchor="start" ><tspan font-style="italic">I</tspan><tspan font-size="27.3" dy="10.1">1</tspan></text>
<text x="1339.4" y="63.2" font-family="Liberation Serif, serif" font-size="35" text-anchor="start" ><tspan font-style="italic">I</tspan><tspan font-size="27.3" dy="10.4">3</tspan></text>
<text x="1484.4" y="28.6" font-family="Liberation Serif, serif" font-size="35" text-anchor="start" ><tspan font-style="italic">I</tspan><tspan font-size="27.3" dy="9.8">2</tspan></text>
<text x="1484.9" y="65.2" font-family="Liberation Serif, serif" font-size="35" text-anchor="start" ><tspan font-style="italic">I</tspan><tspan font-size="27.3" dy="10">4</tspan></text>
<line x1="1383.2" y1="20.2" x2="1473.1" y2="20.2" stroke="#ff0000" stroke-width="3.4" />
<path d="M1423.8 20.2H1432.6M1428.2 15.8V24.6" fill="none" stroke="#ff0000" stroke-width="3"/>
<line x1="1385.3" y1="55" x2="1471.2" y2="55" stroke="#006400" stroke-width="3.2" stroke-dasharray="12.6 6.3"/>
<path d="M1426 51L1434 59M1426 59L1434 51M1430 50.4V59.6M1425.4 55H1434.6" fill="none" stroke="#006400" stroke-width="3.4"/>
<line x1="1530.9" y1="20.2" x2="1617.3" y2="20.2" stroke="#0000ff" stroke-width="3.6" stroke-dasharray="24.7 6.3"/>
<path d="M1571.6 16.1L1579.8 24.3M1571.6 24.3L1579.8 16.1" fill="none" stroke="#0000ff" stroke-width="3.5"/>
<line x1="1530.9" y1="57.3" x2="1621" y2="57.3" stroke="#000" stroke-width="3" stroke-dasharray="6 6"/>
<rect x="1571.7" y="53.3" width="8.0" height="8.0" fill="none" stroke="#000" stroke-width="3.4"/><rect x="1574.8" y="56.4" width="1.8" height="1.8" fill="#000"/>
<rect x="1310.5" y="445.6" width="318.3" height="253.9" fill="none" stroke="#2a2a2a" stroke-width="1.3"/>
<line x1="1469.65" y1="699.5" x2="1469.65" y2="690.5" stroke="#333" stroke-width="1.1" />
<line x1="1469.65" y1="445.6" x2="1469.65" y2="454.6" stroke="#333" stroke-width="1.1" />
<line x1="1342.33" y1="699.5" x2="1342.33" y2="695" stroke="#333" stroke-width="1.1" />
<line x1="1342.33" y1="445.6" x2="1342.33" y2="450.1" stroke="#333" stroke-width="1.1" />
<line x1="1374.16" y1="699.5" x2="1374.16" y2="695" stroke="#333" stroke-width="1.1" />
<line x1="1374.16" y1="445.6" x2="1374.16" y2="450.1" stroke="#333" stroke-width="1.1" />
<line x1="1405.99" y1="699.5" x2="1405.99" y2="695" stroke="#333" stroke-width="1.1" />
<line x1="1405.99" y1="445.6" x2="1405.99" y2="450.1" stroke="#333" stroke-width="1.1" />
<line x1="1437.82" y1="699.5" x2="1437.82" y2="695" stroke="#333" stroke-width="1.1" />
<line x1="1437.82" y1="445.6" x2="1437.82" y2="450.1" stroke="#333" stroke-width="1.1" />
<line x1="1501.48" y1="699.5" x2="1501.48" y2="695" stroke="#333" stroke-width="1.1" />
<line x1="1501.48" y1="445.6" x2="1501.48" y2="450.1" stroke="#333" stroke-width="1.1" />
<line x1="1533.31" y1="699.5" x2="1533.31" y2="695" stroke="#333" stroke-width="1.1" />
<line x1="1533.31" y1="445.6" x2="1533.31" y2="450.1" stroke="#333" stroke-width="1.1" />
<line x1="1565.14" y1="699.5" x2="1565.14" y2="695" stroke="#333" stroke-width="1.1" />
<line x1="1565.14" y1="445.6" x2="1565.14" y2="450.1" stroke="#333" stroke-width="1.1" />
<line x1="1596.97" y1="699.5" x2="1596.97" y2="695" stroke="#333" stroke-width="1.1" />
<line x1="1596.97" y1="445.6" x2="1596.97" y2="450.1" stroke="#333" stroke-width="1.1" />
<line x1="1310.5" y1="650.73" x2="1319.5" y2="650.73" stroke="#333" stroke-width="1.1" />
<line x1="1628.8" y1="650.73" x2="1619.8" y2="650.73" stroke="#333" stroke-width="1.1" />
<line x1="1310.5" y1="601.96" x2="1319.5" y2="601.96" stroke="#333" stroke-width="1.1" />
<line x1="1628.8" y1="601.96" x2="1619.8" y2="601.96" stroke="#333" stroke-width="1.1" />
<line x1="1310.5" y1="553.19" x2="1319.5" y2="553.19" stroke="#333" stroke-width="1.1" />
<line x1="1628.8" y1="553.19" x2="1619.8" y2="553.19" stroke="#333" stroke-width="1.1" />
<line x1="1310.5" y1="504.42" x2="1319.5" y2="504.42" stroke="#333" stroke-width="1.1" />
<line x1="1628.8" y1="504.42" x2="1619.8" y2="504.42" stroke="#333" stroke-width="1.1" />
<line x1="1310.5" y1="455.65" x2="1319.5" y2="455.65" stroke="#333" stroke-width="1.1" />
<line x1="1628.8" y1="455.65" x2="1619.8" y2="455.65" stroke="#333" stroke-width="1.1" />
<line x1="1310.5" y1="689.75" x2="1315" y2="689.75" stroke="#333" stroke-width="1.1" />
<line x1="1628.8" y1="689.75" x2="1624.3" y2="689.75" stroke="#333" stroke-width="1.1" />
<line x1="1310.5" y1="679.99" x2="1315" y2="679.99" stroke="#333" stroke-width="1.1" />
<line x1="1628.8" y1="679.99" x2="1624.3" y2="679.99" stroke="#333" stroke-width="1.1" />
<line x1="1310.5" y1="670.24" x2="1315" y2="670.24" stroke="#333" stroke-width="1.1" />
<line x1="1628.8" y1="670.24" x2="1624.3" y2="670.24" stroke="#333" stroke-width="1.1" />
<line x1="1310.5" y1="660.48" x2="1315" y2="660.48" stroke="#333" stroke-width="1.1" />
<line x1="1628.8" y1="660.48" x2="1624.3" y2="660.48" stroke="#333" stroke-width="1.1" />
<line x1="1310.5" y1="640.98" x2="1315" y2="640.98" stroke="#333" stroke-width="1.1" />
<line x1="1628.8" y1="640.98" x2="1624.3" y2="640.98" stroke="#333" stroke-width="1.1" />
<line x1="1310.5" y1="631.22" x2="1315" y2="631.22" stroke="#333" stroke-width="1.1" />
<line x1="1628.8" y1="631.22" x2="1624.3" y2="631.22" stroke="#333" stroke-width="1.1" />
<line x1="1310.5" y1="621.47" x2="1315" y2="621.47" stroke="#333" stroke-width="1.1" />
<line x1="1628.8" y1="621.47" x2="1624.3" y2="621.47" stroke="#333" stroke-width="1.1" />
<line x1="1310.5" y1="611.71" x2="1315" y2="611.71" stroke="#333" stroke-width="1.1" />
<line x1="1628.8" y1="611.71" x2="1624.3" y2="611.71" stroke="#333" stroke-width="1.1" />
<line x1="1310.5" y1="592.21" x2="1315" y2="592.21" stroke="#333" stroke-width="1.1" />
<line x1="1628.8" y1="592.21" x2="1624.3" y2="592.21" stroke="#333" stroke-width="1.1" />
<line x1="1310.5" y1="582.45" x2="1315" y2="582.45" stroke="#333" stroke-width="1.1" />
<line x1="1628.8" y1="582.45" x2="1624.3" y2="582.45" stroke="#333" stroke-width="1.1" />
<line x1="1310.5" y1="572.7" x2="1315" y2="572.7" stroke="#333" stroke-width="1.1" />
<line x1="1628.8" y1="572.7" x2="1624.3" y2="572.7" stroke="#333" stroke-width="1.1" />
<line x1="1310.5" y1="562.94" x2="1315" y2="562.94" stroke="#333" stroke-width="1.1" />
<line x1="1628.8" y1="562.94" x2="1624.3" y2="562.94" stroke="#333" stroke-width="1.1" />
<line x1="1310.5" y1="543.44" x2="1315" y2="543.44" stroke="#333" stroke-width="1.1" />
<line x1="1628.8" y1="543.44" x2="1624.3" y2="543.44" stroke="#333" stroke-width="1.1" />
<line x1="1310.5" y1="533.68" x2="1315" y2="533.68" stroke="#333" stroke-width="1.1" />
<line x1="1628.8" y1="533.68" x2="1624.3" y2="533.68" stroke="#333" stroke-width="1.1" />
<line x1="1310.5" y1="523.93" x2="1315" y2="523.93" stroke="#333" stroke-width="1.1" />
<line x1="1628.8" y1="523.93" x2="1624.3" y2="523.93" stroke="#333" stroke-width="1.1" />
<line x1="1310.5" y1="514.17" x2="1315" y2="514.17" stroke="#333" stroke-width="1.1" />
<line x1="1628.8" y1="514.17" x2="1624.3" y2="514.17" stroke="#333" stroke-width="1.1" />
<line x1="1310.5" y1="494.67" x2="1315" y2="494.67" stroke="#333" stroke-width="1.1" />
<line x1="1628.8" y1="494.67" x2="1624.3" y2="494.67" stroke="#333" stroke-width="1.1" />
<line x1="1310.5" y1="484.91" x2="1315" y2="484.91" stroke="#333" stroke-width="1.1" />
<line x1="1628.8" y1="484.91" x2="1624.3" y2="484.91" stroke="#333" stroke-width="1.1" />
<line x1="1310.5" y1="475.16" x2="1315" y2="475.16" stroke="#333" stroke-width="1.1" />
<line x1="1628.8" y1="475.16" x2="1624.3" y2="475.16" stroke="#333" stroke-width="1.1" />
<line x1="1310.5" y1="465.4" x2="1315" y2="465.4" stroke="#333" stroke-width="1.1" />
<line x1="1628.8" y1="465.4" x2="1624.3" y2="465.4" stroke="#333" stroke-width="1.1" />
<path d="M1318.46 462.19 L1326.41 488.96 L1334.37 529.29 L1342.33 566.75 L1358.24 617.66 L1374.16 641.27 L1405.99 644.98 L1437.82 650.73 L1469.65 658.73 L1501.48 668.58 L1533.31 676.82 L1565.14 685.02 L1596.97 692.23 L1628.8 699.5" fill="none" stroke="#ff0000" stroke-width="3.8" />
<path d="M1314.06 462.19H1322.86M1318.46 457.79V466.59M1322.01 488.96H1330.82M1326.41 484.56V493.36M1329.97 529.29H1338.77M1334.37 524.89V533.69M1337.93 566.75H1346.73M1342.33 562.35V571.15M1353.84 617.66H1362.64M1358.24 613.26V622.06M1369.76 641.27H1378.56M1374.16 636.87V645.67M1401.59 644.98H1410.39M1405.99 640.58V649.38M1433.42 650.73H1442.22M1437.82 646.33V655.13M1465.25 658.73H1474.05M1469.65 654.33V663.13M1497.08 668.58H1505.88M1501.48 664.18V672.98M1528.91 676.82H1537.71M1533.31 672.42V681.22M1560.74 685.02H1569.54M1565.14 680.62V689.42M1592.57 692.23H1601.37M1596.97 687.83V696.63M1624.4 699.5H1633.2M1628.8 695.1V703.9" fill="none" stroke="#ff0000" stroke-width="3"/>
<text x="1314.7" y="731.3" font-family="Liberation Serif, serif" font-size="38.4" text-anchor="middle" >0</text>
<text x="1473.85" y="731.3" font-family="Liberation Serif, serif" font-size="38.4" text-anchor="middle" >0.5</text>
<text x="1633" y="731.3" font-family="Liberation Serif, serif" font-size="38.4" text-anchor="middle" >1</text>
<text x="1308.8" y="712.5" font-family="Liberation Serif, serif" font-size="38.4" text-anchor="end" >0</text>
<text x="1308.8" y="663.73" font-family="Liberation Serif, serif" font-size="38.4" text-anchor="end" >0.01</text>
<text x="1308.8" y="614.96" font-family="Liberation Serif, serif" font-size="38.4" text-anchor="end" >0.02</text>
<text x="1308.8" y="566.19" font-family="Liberation Serif, serif" font-size="38.4" text-anchor="end" >0.03</text>
<text x="1308.8" y="517.42" font-family="Liberation Serif, serif" font-size="38.4" text-anchor="end" >0.04</text>
<text x="1308.8" y="468.65" font-family="Liberation Serif, serif" font-size="38.4" text-anchor="end" >0.05</text>
<circle cx="1342.7" cy="568.8" r="18.6" fill="none" stroke="#0000ff" stroke-width="4.8"/>
<circle cx="1472.5" cy="657.5" r="18.6" fill="none" stroke="#0000ff" stroke-width="4.8"/>
<text x="1358.5" y="547.6" font-family="Liberation Serif, serif" font-size="38.4" text-anchor="start" >(e)</text>
<text x="1450.8" y="616.9" font-family="Liberation Serif, serif" font-size="38.4" text-anchor="start" >(f)</text>
<text x="0" y="0" transform="translate(1210 573) rotate(-90)" font-family="Liberation Serif, serif" font-size="37.5" text-anchor="middle" ><tspan font-style="italic">e</tspan><tspan font-style="italic">R</tspan><tspan font-size="30" dy="11.5">N</tspan><tspan font-style="italic" dy="-11.5">I</tspan><tspan font-size="30" dy="11.5">c</tspan><tspan dy="-11.5">/</tspan><tspan stroke="#000" stroke-width="0.75" font-size="29.06" dy="-6.19">|</tspan><tspan dy="6.19">Δ</tspan><tspan font-size="30" dy="11.5">0</tspan><tspan stroke="#000" stroke-width="0.75" font-size="29.06" dy="-17.69">|</tspan></text>
<text x="1470" y="766.2" font-family="Liberation Serif, serif" font-size="37.5" text-anchor="middle" ><tspan font-style="italic">T</tspan>/<tspan font-style="italic">T</tspan><tspan font-size="30" dy="10.1">c</tspan></text>
<text x="1305.3" y="432" font-family="Liberation Sans, sans-serif" font-size="43" text-anchor="start" >h</text>
<rect x="1730" y="82.8" width="321.4" height="257.2" fill="none" stroke="#2a2a2a" stroke-width="1.3"/>
<line x1="1744.61" y1="340" x2="1744.61" y2="331" stroke="#333" stroke-width="1.1" />
<line x1="1744.61" y1="82.8" x2="1744.61" y2="91.8" stroke="#333" stroke-width="1.1" />
<line x1="1817.65" y1="340" x2="1817.65" y2="331" stroke="#333" stroke-width="1.1" />
<line x1="1817.65" y1="82.8" x2="1817.65" y2="91.8" stroke="#333" stroke-width="1.1" />
<line x1="1890.7" y1="340" x2="1890.7" y2="331" stroke="#333" stroke-width="1.1" />
<line x1="1890.7" y1="82.8" x2="1890.7" y2="91.8" stroke="#333" stroke-width="1.1" />
<line x1="1963.75" y1="340" x2="1963.75" y2="331" stroke="#333" stroke-width="1.1" />
<line x1="1963.75" y1="82.8" x2="1963.75" y2="91.8" stroke="#333" stroke-width="1.1" />
<line x1="2036.79" y1="340" x2="2036.79" y2="331" stroke="#333" stroke-width="1.1" />
<line x1="2036.79" y1="82.8" x2="2036.79" y2="91.8" stroke="#333" stroke-width="1.1" />
<line x1="1730" y1="216.5" x2="1739" y2="216.5" stroke="#333" stroke-width="1.1" />
<line x1="2051.4" y1="216.5" x2="2042.4" y2="216.5" stroke="#333" stroke-width="1.1" />
<line x1="1730" y1="93" x2="1739" y2="93" stroke="#333" stroke-width="1.1" />
<line x1="2051.4" y1="93" x2="2042.4" y2="93" stroke="#333" stroke-width="1.1" />
<line x1="1730" y1="315.3" x2="1734.5" y2="315.3" stroke="#333" stroke-width="1.1" />
<line x1="2051.4" y1="315.3" x2="2046.9" y2="315.3" stroke="#333" stroke-width="1.1" />
<line x1="1730" y1="290.6" x2="1734.5" y2="290.6" stroke="#333" stroke-width="1.1" />
<line x1="2051.4" y1="290.6" x2="2046.9" y2="290.6" stroke="#333" stroke-width="1.1" />
<line x1="1730" y1="265.9" x2="1734.5" y2="265.9" stroke="#333" stroke-width="1.1" />
<line x1="2051.4" y1="265.9" x2="2046.9" y2="265.9" stroke="#333" stroke-width="1.1" />
<line x1="1730" y1="241.2" x2="1734.5" y2="241.2" stroke="#333" stroke-width="1.1" />
<line x1="2051.4" y1="241.2" x2="2046.9" y2="241.2" stroke="#333" stroke-width="1.1" />
<line x1="1730" y1="191.8" x2="1734.5" y2="191.8" stroke="#333" stroke-width="1.1" />
<line x1="2051.4" y1="191.8" x2="2046.9" y2="191.8" stroke="#333" stroke-width="1.1" />
<line x1="1730" y1="167.1" x2="1734.5" y2="167.1" stroke="#333" stroke-width="1.1" />
<line x1="2051.4" y1="167.1" x2="2046.9" y2="167.1" stroke="#333" stroke-width="1.1" />
<line x1="1730" y1="142.4" x2="1734.5" y2="142.4" stroke="#333" stroke-width="1.1" />
<line x1="2051.4" y1="142.4" x2="2046.9" y2="142.4" stroke="#333" stroke-width="1.1" />
<line x1="1730" y1="117.7" x2="1734.5" y2="117.7" stroke="#333" stroke-width="1.1" />
<line x1="2051.4" y1="117.7" x2="2046.9" y2="117.7" stroke="#333" stroke-width="1.1" />
<path d="M1730 318.26 L1744.9 340 L1748.64 332.49 L1752.38 325.01 L1756.12 317.44 L1759.85 309.65 L1763.59 301.55 L1767.33 293.09 L1771.07 284.24 L1774.81 274.97 L1778.55 265.3 L1782.29 255.28 L1786.02 244.97 L1789.76 234.42 L1793.5 223.72 L1797.24 212.93 L1800.98 202.14 L1804.72 191.45 L1808.45 180.95 L1812.19 170.73 L1815.93 160.9 L1819.67 151.53 L1823.41 142.7 L1827.15 134.48 L1830.89 126.93 L1834.62 120.08 L1838.36 113.99 L1842.1 108.67 L1845.84 104.14 L1849.58 100.42 L1853.32 97.51 L1857.05 95.39 L1860.79 94.04 L1864.53 93.45 L1868.27 93.56 L1872.01 94.34 L1875.75 95.72 L1879.48 97.64 L1883.22 100.03 L1886.96 102.79 L1890.7 105.85 L1894.44 102.79 L1898.18 100.03 L1901.92 97.64 L1905.65 95.72 L1909.39 94.34 L1913.13 93.56 L1916.87 93.45 L1920.61 94.04 L1924.35 95.39 L1928.08 97.51 L1931.82 100.42 L1935.56 104.14 L1939.3 108.67 L1943.04 113.99 L1946.78 120.08 L1950.51 126.93 L1954.25 134.48 L1957.99 142.7 L1961.73 151.53 L1965.47 160.9 L1969.21 170.73 L1972.95 180.95 L1976.68 191.45 L1980.42 202.14 L1984.16 212.93 L1987.9 223.72 L1991.64 234.42 L1995.38 244.97 L1999.11 255.28 L2002.85 265.3 L2006.59 274.97 L2010.33 284.24 L2014.07 293.09 L2017.81 301.55 L2021.55 309.65 L2025.28 317.44 L2029.02 325.01 L2032.76 332.49 L2036.5 340 L2051.4 318.26" fill="none" stroke="#ff0000" stroke-width="6" stroke-linejoin="miter"/>
<path d="M1730 318.26 L1744.9 340 L1748.64 332.49 L1752.38 325.01 L1756.12 317.44 L1759.85 309.65 L1763.59 301.55 L1767.33 293.09 L1771.07 284.24 L1774.81 274.97 L1778.55 265.3 L1782.29 255.28 L1786.02 244.97 L1789.76 234.42 L1793.5 223.72 L1797.24 212.93 L1800.98 202.14 L1804.72 191.45 L1808.45 180.95 L1812.19 170.73 L1815.93 160.9 L1819.67 151.53 L1823.41 142.7 L1827.15 134.48 L1830.89 126.93 L1834.62 120.08 L1838.36 113.99 L1842.1 108.67 L1845.84 104.14 L1849.58 100.42 L1853.32 97.51 L1857.05 95.39 L1860.79 94.04 L1864.53 93.45 L1868.27 93.56 L1872.01 94.34 L1875.75 95.72 L1879.48 97.64 L1883.22 100.03 L1886.96 102.79 L1890.7 105.85 L1894.44 102.79 L1898.18 100.03 L1901.92 97.64 L1905.65 95.72 L1909.39 94.34 L1913.13 93.56 L1916.87 93.45 L1920.61 94.04 L1924.35 95.39 L1928.08 97.51 L1931.82 100.42 L1935.56 104.14 L1939.3 108.67 L1943.04 113.99 L1946.78 120.08 L1950.51 126.93 L1954.25 134.48 L1957.99 142.7 L1961.73 151.53 L1965.47 160.9 L1969.21 170.73 L1972.95 180.95 L1976.68 191.45 L1980.42 202.14 L1984.16 212.93 L1987.9 223.72 L1991.64 234.42 L1995.38 244.97 L1999.11 255.28 L2002.85 265.3 L2006.59 274.97 L2010.33 284.24 L2014.07 293.09 L2017.81 301.55 L2021.55 309.65 L2025.28 317.44 L2029.02 325.01 L2032.76 332.49 L2036.5 340 L2051.4 318.26" fill="none" stroke="#0000ff" stroke-width="6" stroke-dasharray="11.5 11.5" stroke-linejoin="miter"/>
<text x="1744.61" y="371.8" font-family="Liberation Serif, serif" font-size="38.4" text-anchor="middle" >-1</text>
<text x="1817.65" y="371.8" font-family="Liberation Serif, serif" font-size="38.4" text-anchor="middle" >-0.5</text>
<text x="1894.9" y="371.8" font-family="Liberation Serif, serif" font-size="38.4" text-anchor="middle" >0</text>
<text x="1967.95" y="371.8" font-family="Liberation Serif, serif" font-size="38.4" text-anchor="middle" >0.5</text>
<text x="2040.99" y="371.8" font-family="Liberation Serif, serif" font-size="38.4" text-anchor="middle" >1</text>
<text x="1728.3" y="353" font-family="Liberation Serif, serif" font-size="38.4" text-anchor="end" >0</text>
<text x="1728.3" y="229.5" font-family="Liberation Serif, serif" font-size="38.4" text-anchor="end" >0.5</text>
<text x="1728.3" y="106" font-family="Liberation Serif, serif" font-size="38.4" text-anchor="end" >1</text>
<text x="0" y="0" transform="translate(1665 214) rotate(-90)" font-family="Liberation Serif, serif" font-size="37.5" text-anchor="middle" letter-spacing="-0.6"><tspan font-style="italic" stroke="#000" stroke-width="0.5">I</tspan><tspan font-size="30" dy="11.5">c</tspan><tspan stroke="#000" stroke-width="0.5" dy="-11.5">/</tspan><tspan font-style="italic" stroke="#000" stroke-width="0.5">I</tspan><tspan font-size="30" dy="11.5">0</tspan></text>
<text x="1688.3" y="67.7" font-family="Liberation Sans, sans-serif" font-size="43" text-anchor="start" >i</text>
<text x="1718.3" y="26" font-family="Liberation Serif, serif" font-size="38.4" text-anchor="start" >0-junction</text>
<text x="1716" y="64.1" font-family="Liberation Serif, serif" font-size="38.4" text-anchor="start" >φ-junction</text>
<line x1="1898.9" y1="13" x2="1999.2" y2="13" stroke="#ff0000" stroke-width="6.2" />
<line x1="1898.9" y1="51.5" x2="1999.2" y2="51.5" stroke="#0000ff" stroke-width="5.6" stroke-dasharray="11 11"/>
<rect x="1730.6" y="444.9" width="320.8" height="257" fill="none" stroke="#2a2a2a" stroke-width="1.3"/>
<line x1="1745.18" y1="701.9" x2="1745.18" y2="692.9" stroke="#333" stroke-width="1.1" />
<line x1="1745.18" y1="444.9" x2="1745.18" y2="453.9" stroke="#333" stroke-width="1.1" />
<line x1="1818.09" y1="701.9" x2="1818.09" y2="692.9" stroke="#333" stroke-width="1.1" />
<line x1="1818.09" y1="444.9" x2="1818.09" y2="453.9" stroke="#333" stroke-width="1.1" />
<line x1="1891" y1="701.9" x2="1891" y2="692.9" stroke="#333" stroke-width="1.1" />
<line x1="1891" y1="444.9" x2="1891" y2="453.9" stroke="#333" stroke-width="1.1" />
<line x1="1963.91" y1="701.9" x2="1963.91" y2="692.9" stroke="#333" stroke-width="1.1" />
<line x1="1963.91" y1="444.9" x2="1963.91" y2="453.9" stroke="#333" stroke-width="1.1" />
<line x1="2036.82" y1="701.9" x2="2036.82" y2="692.9" stroke="#333" stroke-width="1.1" />
<line x1="2036.82" y1="444.9" x2="2036.82" y2="453.9" stroke="#333" stroke-width="1.1" />
<line x1="1730.6" y1="578.35" x2="1739.6" y2="578.35" stroke="#333" stroke-width="1.1" />
<line x1="2051.4" y1="578.35" x2="2042.4" y2="578.35" stroke="#333" stroke-width="1.1" />
<line x1="1730.6" y1="454.8" x2="1739.6" y2="454.8" stroke="#333" stroke-width="1.1" />
<line x1="2051.4" y1="454.8" x2="2042.4" y2="454.8" stroke="#333" stroke-width="1.1" />
<line x1="1730.6" y1="677.19" x2="1735.1" y2="677.19" stroke="#333" stroke-width="1.1" />
<line x1="2051.4" y1="677.19" x2="2046.9" y2="677.19" stroke="#333" stroke-width="1.1" />
<line x1="1730.6" y1="652.48" x2="1735.1" y2="652.48" stroke="#333" stroke-width="1.1" />
<line x1="2051.4" y1="652.48" x2="2046.9" y2="652.48" stroke="#333" stroke-width="1.1" />
<line x1="1730.6" y1="627.77" x2="1735.1" y2="627.77" stroke="#333" stroke-width="1.1" />
<line x1="2051.4" y1="627.77" x2="2046.9" y2="627.77" stroke="#333" stroke-width="1.1" />
<line x1="1730.6" y1="603.06" x2="1735.1" y2="603.06" stroke="#333" stroke-width="1.1" />
<line x1="2051.4" y1="603.06" x2="2046.9" y2="603.06" stroke="#333" stroke-width="1.1" />
<line x1="1730.6" y1="553.64" x2="1735.1" y2="553.64" stroke="#333" stroke-width="1.1" />
<line x1="2051.4" y1="553.64" x2="2046.9" y2="553.64" stroke="#333" stroke-width="1.1" />
<line x1="1730.6" y1="528.93" x2="1735.1" y2="528.93" stroke="#333" stroke-width="1.1" />
<line x1="2051.4" y1="528.93" x2="2046.9" y2="528.93" stroke="#333" stroke-width="1.1" />
<line x1="1730.6" y1="504.22" x2="1735.1" y2="504.22" stroke="#333" stroke-width="1.1" />
<line x1="2051.4" y1="504.22" x2="2046.9" y2="504.22" stroke="#333" stroke-width="1.1" />
<line x1="1730.6" y1="479.51" x2="1735.1" y2="479.51" stroke="#333" stroke-width="1.1" />
<line x1="2051.4" y1="479.51" x2="2046.9" y2="479.51" stroke="#333" stroke-width="1.1" />
<path d="M1730.6 680.16 L1745.47 701.9 L1747.35 698.83 L1749.22 695.57 L1751.09 692.15 L1752.97 688.58 L1754.84 684.86 L1756.71 681.02 L1758.59 677.06 L1760.46 673 L1762.33 668.86 L1764.21 664.64 L1766.08 660.35 L1767.95 656.01 L1769.83 651.63 L1771.7 647.22 L1773.57 642.8 L1775.44 638.36 L1777.32 633.93 L1779.19 629.51 L1781.06 625.11 L1782.94 620.74 L1784.81 616.41 L1786.68 612.13 L1788.56 607.91 L1790.43 603.76 L1792.3 599.68 L1794.18 595.68 L1796.05 591.77 L1797.92 587.96 L1799.8 584.25 L1801.67 580.65 L1803.54 577.17 L1805.42 573.81 L1807.29 570.58 L1809.16 567.48 L1811.04 564.51 L1812.91 561.7 L1814.78 559.02 L1816.66 556.51 L1818.53 554.14 L1818.53 554.13 L1820.39 548.72 L1822.24 543.39 L1824.1 538.13 L1825.96 532.96 L1827.82 527.9 L1829.68 522.95 L1831.54 518.11 L1833.39 513.41 L1835.25 508.84 L1837.11 504.43 L1838.97 500.16 L1840.83 496.06 L1842.69 492.12 L1844.54 488.36 L1846.4 484.78 L1848.26 481.39 L1850.12 478.18 L1851.98 475.17 L1853.84 472.36 L1855.69 469.75 L1857.55 467.35 L1859.41 465.16 L1861.27 463.17 L1863.13 461.4 L1864.98 459.84 L1866.84 458.49 L1868.7 457.36 L1870.56 456.45 L1872.42 455.74 L1874.28 455.25 L1876.13 454.97 L1877.99 454.9 L1879.85 455.04 L1881.71 455.38 L1883.57 455.91 L1885.43 456.65 L1887.28 457.58 L1889.14 458.69 L1891 459.99 L1892.86 458.69 L1894.72 457.58 L1896.57 456.65 L1898.43 455.91 L1900.29 455.38 L1902.15 455.04 L1904.01 454.9 L1905.87 454.97 L1907.72 455.25 L1909.58 455.74 L1911.44 456.45 L1913.3 457.36 L1915.16 458.49 L1917.02 459.84 L1918.87 461.4 L1920.73 463.17 L1922.59 465.16 L1924.45 467.35 L1926.31 469.75 L1928.16 472.36 L1930.02 475.17 L1931.88 478.18 L1933.74 481.39 L1935.6 484.78 L1937.46 488.36 L1939.31 492.12 L1941.17 496.06 L1943.03 500.16 L1944.89 504.43 L1946.75 508.84 L1948.61 513.41 L1950.46 518.11 L1952.32 522.95 L1954.18 527.9 L1956.04 532.96 L1957.9 538.13 L1959.76 543.39 L1961.61 548.72 L1963.47 554.13 L1963.47 554.14 L1965.34 556.51 L1967.22 559.02 L1969.09 561.7 L1970.96 564.51 L1972.84 567.48 L1974.71 570.58 L1976.58 573.81 L1978.46 577.17 L1980.33 580.65 L1982.2 584.25 L1984.08 587.96 L1985.95 591.77 L1987.82 595.68 L1989.7 599.68 L1991.57 603.76 L1993.44 607.91 L1995.32 612.13 L1997.19 616.41 L1999.06 620.74 L2000.94 625.11 L2002.81 629.51 L2004.68 633.93 L2006.56 638.36 L2008.43 642.8 L2010.3 647.22 L2012.17 651.63 L2014.05 656.01 L2015.92 660.35 L2017.79 664.64 L2019.67 668.86 L2021.54 673 L2023.41 677.06 L2025.29 681.02 L2027.16 684.86 L2029.03 688.58 L2030.91 692.15 L2032.78 695.57 L2034.65 698.83 L2036.53 701.9 L2051.4 680.16" fill="none" stroke="#ff0000" stroke-width="6" stroke-linejoin="miter"/>
<text x="1745.18" y="733.4" font-family="Liberation Serif, serif" font-size="38.4" text-anchor="middle" >-1</text>
<text x="1818.09" y="733.4" font-family="Liberation Serif, serif" font-size="38.4" text-anchor="middle" >-0.5</text>
<text x="1895.2" y="733.4" font-family="Liberation Serif, serif" font-size="38.4" text-anchor="middle" >0</text>
<text x="1968.11" y="733.4" font-family="Liberation Serif, serif" font-size="38.4" text-anchor="middle" >0.5</text>
<text x="2041.02" y="733.4" font-family="Liberation Serif, serif" font-size="38.4" text-anchor="middle" >1</text>
<text x="1728.9" y="714.9" font-family="Liberation Serif, serif" font-size="38.4" text-anchor="end" >0</text>
<text x="1728.9" y="591.35" font-family="Liberation Serif, serif" font-size="38.4" text-anchor="end" >0.5</text>
<text x="1728.9" y="467.8" font-family="Liberation Serif, serif" font-size="38.4" text-anchor="end" >1</text>
<text x="0" y="0" transform="translate(1665 577) rotate(-90)" font-family="Liberation Serif, serif" font-size="37.5" text-anchor="middle" letter-spacing="-0.6"><tspan font-style="italic" stroke="#000" stroke-width="0.5">I</tspan><tspan font-size="30" dy="11.5">c</tspan><tspan stroke="#000" stroke-width="0.5" dy="-11.5">/</tspan><tspan font-style="italic" stroke="#000" stroke-width="0.5">I</tspan><tspan font-size="30" dy="11.5">0</tspan></text>
<text x="1705.5" y="423.6" font-family="Liberation Sans, sans-serif" font-size="43" text-anchor="start" >j</text>
<text x="1742.8" y="431.4" font-family="Liberation Serif, serif" font-size="38.4" text-anchor="start" >high harmonics</text>
<text x="1892.5" y="767.6" font-family="Liberation Serif, serif" font-size="37.5" text-anchor="middle" letter-spacing="-0.6"><tspan font-style="italic" stroke="#000" stroke-width="0.5">Φ</tspan><tspan font-style="italic" stroke="#000" stroke-width="0.5">/</tspan><tspan font-style="italic" stroke="#000" stroke-width="0.5">Φ</tspan><tspan font-size="30" dy="11">0</tspan></text>
</svg></body></html>
